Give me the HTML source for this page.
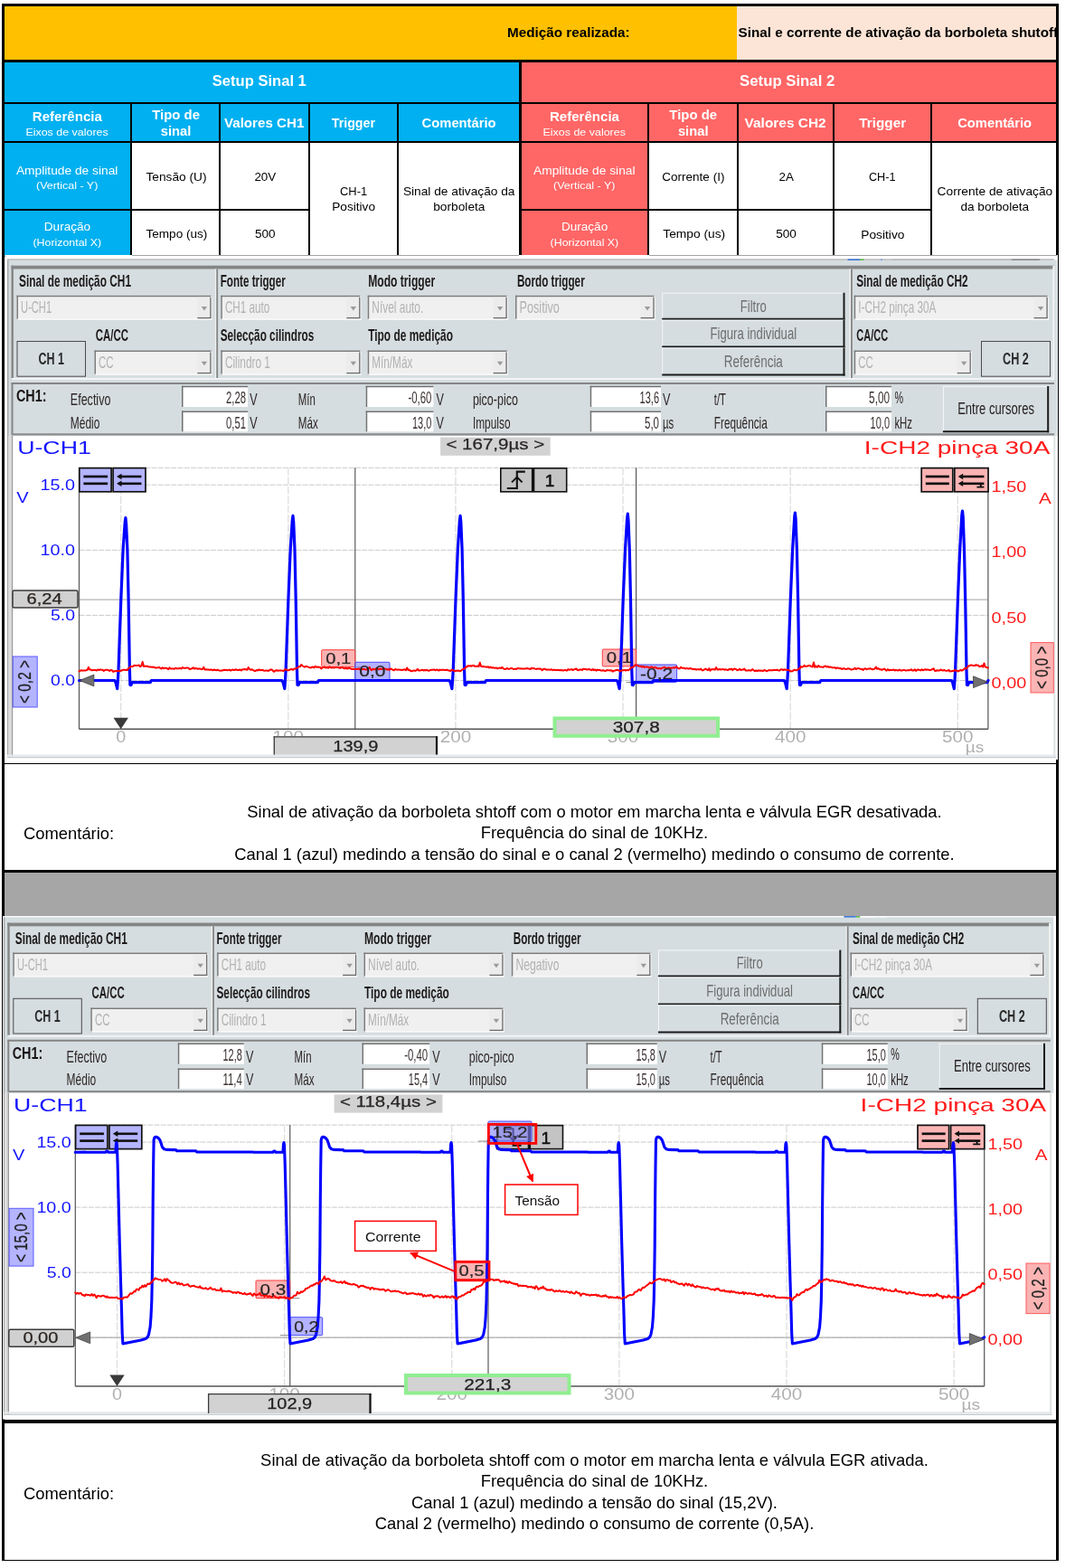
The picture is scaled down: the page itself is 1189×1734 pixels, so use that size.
<!DOCTYPE html>
<html lang="pt"><head><meta charset="utf-8"><title>Medição</title>
<style>
html,body{margin:0;padding:0;background:#fff;}
body{width:1189px;height:1734px;overflow:hidden;font-family:"Liberation Sans", sans-serif;}
#pg{position:relative;width:1189px;height:1734px;overflow:hidden;background:#fff;}
#pg div{box-sizing:border-box;}
svg text{font-family:"Liberation Sans", sans-serif;}
</style></head><body><div id="pg">
<div style="position:absolute;left:2px;top:4px;width:1169px;height:280px;background:#000;"></div>
<div style="position:absolute;left:5px;top:7px;width:810px;height:59px;background:#ffc000;"></div>
<div style="position:absolute;left:815px;top:7px;width:353px;height:59px;background:#fce4d6;"></div>
<div style="position:absolute;left:5px;top:69px;width:569px;height:44px;background:#00b0f0;"></div>
<div style="position:absolute;left:577px;top:69px;width:591px;height:44px;background:#ff6666;"></div>
<div style="position:absolute;left:5px;top:115px;width:139px;height:40.8px;background:#00b0f0;"></div>
<div style="position:absolute;left:146px;top:115px;width:96px;height:40.8px;background:#00b0f0;"></div>
<div style="position:absolute;left:244px;top:115px;width:97px;height:40.8px;background:#00b0f0;"></div>
<div style="position:absolute;left:343px;top:115px;width:96px;height:40.8px;background:#00b0f0;"></div>
<div style="position:absolute;left:441px;top:115px;width:133px;height:40.8px;background:#00b0f0;"></div>
<div style="position:absolute;left:577px;top:115px;width:139px;height:40.8px;background:#ff6666;"></div>
<div style="position:absolute;left:718px;top:115px;width:97px;height:40.8px;background:#ff6666;"></div>
<div style="position:absolute;left:817px;top:115px;width:104px;height:40.8px;background:#ff6666;"></div>
<div style="position:absolute;left:923px;top:115px;width:106px;height:40.8px;background:#ff6666;"></div>
<div style="position:absolute;left:1031px;top:115px;width:137px;height:40.8px;background:#ff6666;"></div>
<div style="position:absolute;left:5px;top:158px;width:139px;height:73px;background:#00b0f0;"></div>
<div style="position:absolute;left:5px;top:233px;width:139px;height:49.5px;background:#00b0f0;"></div>
<div style="position:absolute;left:146px;top:158px;width:96px;height:73px;background:#fff;"></div>
<div style="position:absolute;left:146px;top:233px;width:96px;height:49.5px;background:#fff;"></div>
<div style="position:absolute;left:244px;top:158px;width:97px;height:73px;background:#fff;"></div>
<div style="position:absolute;left:244px;top:233px;width:97px;height:49.5px;background:#fff;"></div>
<div style="position:absolute;left:577px;top:158px;width:139px;height:73px;background:#ff6666;"></div>
<div style="position:absolute;left:577px;top:233px;width:139px;height:49.5px;background:#ff6666;"></div>
<div style="position:absolute;left:718px;top:158px;width:97px;height:73px;background:#fff;"></div>
<div style="position:absolute;left:718px;top:233px;width:97px;height:49.5px;background:#fff;"></div>
<div style="position:absolute;left:817px;top:158px;width:104px;height:73px;background:#fff;"></div>
<div style="position:absolute;left:817px;top:233px;width:104px;height:49.5px;background:#fff;"></div>
<div style="position:absolute;left:343px;top:158px;width:96px;height:124.5px;background:#fff;"></div>
<div style="position:absolute;left:441px;top:158px;width:133px;height:124.5px;background:#fff;"></div>
<div style="position:absolute;left:923px;top:158px;width:106px;height:73px;background:#fff;"></div>
<div style="position:absolute;left:923px;top:233px;width:106px;height:49.5px;background:#fff;"></div>
<div style="position:absolute;left:1031px;top:158px;width:137px;height:124.5px;background:#fff;"></div>
<svg width="1189" height="290" viewBox="0 0 1189 290" style="position:absolute;left:0;top:0"><text x="561" y="40.8" font-size="14.7" fill="#000" textLength="135.6" lengthAdjust="spacingAndGlyphs" font-weight="bold">Medição realizada:</text><clipPath id="c0"><rect x="815" y="7" width="353" height="59"/></clipPath><g clip-path="url(#c0)"><text x="816.6" y="40.8" font-size="14.7" font-weight="bold" fill="#000" textLength="353.6" lengthAdjust="spacingAndGlyphs">Sinal e corrente de ativação da borboleta shutoff</text></g><text x="234.8" y="94.9" font-size="16" fill="#fff" textLength="104.0" lengthAdjust="spacingAndGlyphs" font-weight="bold">Setup Sinal 1</text><text x="818.1" y="94.7" font-size="16" fill="#fff" textLength="105.2" lengthAdjust="spacingAndGlyphs" font-weight="bold">Setup Sinal 2</text><text x="35.8" y="133.7" font-size="14.2" fill="#fff" textLength="77.1" lengthAdjust="spacingAndGlyphs" font-weight="bold">Referência</text><text x="28.4" y="149.6" font-size="11" fill="#fff" textLength="91.4" lengthAdjust="spacingAndGlyphs">Eixos de valores</text><text x="168.2" y="131.8" font-size="14.2" fill="#fff" textLength="52.8" lengthAdjust="spacingAndGlyphs" font-weight="bold">Tipo de</text><text x="177.8" y="150.4" font-size="14.2" fill="#fff" textLength="33.6" lengthAdjust="spacingAndGlyphs" font-weight="bold">sinal</text><text x="17.9" y="193" font-size="13.3" fill="#fff" textLength="112.5" lengthAdjust="spacingAndGlyphs">Amplitude de sinal</text><text x="40" y="208.9" font-size="11.6" fill="#fff" textLength="68.3" lengthAdjust="spacingAndGlyphs">(Vertical - Y)</text><text x="48.8" y="255.4" font-size="13.3" fill="#fff" textLength="51.3" lengthAdjust="spacingAndGlyphs">Duração</text><text x="36.5" y="272" font-size="11.6" fill="#fff" textLength="75.6" lengthAdjust="spacingAndGlyphs">(Horizontal X)</text><text x="607.9" y="133.7" font-size="14.2" fill="#fff" textLength="77.1" lengthAdjust="spacingAndGlyphs" font-weight="bold">Referência</text><text x="600.5" y="149.6" font-size="11" fill="#fff" textLength="91.4" lengthAdjust="spacingAndGlyphs">Eixos de valores</text><text x="740.3" y="131.8" font-size="14.2" fill="#fff" textLength="52.8" lengthAdjust="spacingAndGlyphs" font-weight="bold">Tipo de</text><text x="749.9000000000001" y="150.4" font-size="14.2" fill="#fff" textLength="33.6" lengthAdjust="spacingAndGlyphs" font-weight="bold">sinal</text><text x="590.0" y="193" font-size="13.3" fill="#fff" textLength="112.5" lengthAdjust="spacingAndGlyphs">Amplitude de sinal</text><text x="612.1" y="208.9" font-size="11.6" fill="#fff" textLength="68.3" lengthAdjust="spacingAndGlyphs">(Vertical - Y)</text><text x="620.9" y="255.4" font-size="13.3" fill="#fff" textLength="51.3" lengthAdjust="spacingAndGlyphs">Duração</text><text x="608.6" y="272" font-size="11.6" fill="#fff" textLength="75.6" lengthAdjust="spacingAndGlyphs">(Horizontal X)</text><text x="248" y="141.1" font-size="14.4" fill="#fff" textLength="88.3" lengthAdjust="spacingAndGlyphs" font-weight="bold">Valores CH1</text><text x="823.6" y="141.2" font-size="14.4" fill="#fff" textLength="90.1" lengthAdjust="spacingAndGlyphs" font-weight="bold">Valores CH2</text><text x="366.8" y="141.4" font-size="14.4" fill="#fff" textLength="48.2" lengthAdjust="spacingAndGlyphs" font-weight="bold">Trigger</text><text x="950.3" y="141.4" font-size="14.4" fill="#fff" textLength="51.8" lengthAdjust="spacingAndGlyphs" font-weight="bold">Trigger</text><text x="466.6" y="141.4" font-size="14.4" fill="#fff" textLength="82.0" lengthAdjust="spacingAndGlyphs" font-weight="bold">Comentário</text><text x="1059.2" y="141.4" font-size="14.4" fill="#fff" textLength="81.9" lengthAdjust="spacingAndGlyphs" font-weight="bold">Comentário</text><text x="161.5" y="200" font-size="13.3" fill="#000" textLength="67.1" lengthAdjust="spacingAndGlyphs">Tensão (U)</text><text x="161.5" y="263" font-size="13.3" fill="#000" textLength="67.8" lengthAdjust="spacingAndGlyphs">Tempo (us)</text><text x="281.4" y="200" font-size="13.3" fill="#000" textLength="23.8" lengthAdjust="spacingAndGlyphs">20V</text><text x="282" y="263" font-size="13.3" fill="#000" textLength="22.6" lengthAdjust="spacingAndGlyphs">500</text><text x="376" y="215.9" font-size="13.3" fill="#000" textLength="30.1" lengthAdjust="spacingAndGlyphs">CH-1</text><text x="367.2" y="232.7" font-size="13.3" fill="#000" textLength="47.8" lengthAdjust="spacingAndGlyphs">Positivo</text><text x="445.9" y="216" font-size="13.3" fill="#000" textLength="123.6" lengthAdjust="spacingAndGlyphs">Sinal de ativação da</text><text x="479.2" y="232.8" font-size="13.3" fill="#000" textLength="57.3" lengthAdjust="spacingAndGlyphs">borboleta</text><text x="732.3" y="200" font-size="13.3" fill="#000" textLength="69.1" lengthAdjust="spacingAndGlyphs">Corrente (I)</text><text x="733.3" y="263" font-size="13.3" fill="#000" textLength="68.9" lengthAdjust="spacingAndGlyphs">Tempo (us)</text><text x="861.5" y="200" font-size="13.3" fill="#000" textLength="16.4" lengthAdjust="spacingAndGlyphs">2A</text><text x="858.2" y="263" font-size="13.3" fill="#000" textLength="22.7" lengthAdjust="spacingAndGlyphs">500</text><text x="960.9" y="200.2" font-size="13.3" fill="#000" textLength="29.6" lengthAdjust="spacingAndGlyphs">CH-1</text><text x="952.3" y="263.7" font-size="13.3" fill="#000" textLength="48.1" lengthAdjust="spacingAndGlyphs">Positivo</text><text x="1036.6" y="216.3" font-size="13.3" fill="#000" textLength="127.6" lengthAdjust="spacingAndGlyphs">Corrente de ativação</text><text x="1062.4" y="232.7" font-size="13.3" fill="#000" textLength="75.8" lengthAdjust="spacingAndGlyphs">da borboleta</text></svg>
<div style="position:absolute;left:2px;top:282px;width:3px;height:1444px;background:#000;"></div>
<div style="position:absolute;left:1168px;top:282px;width:3px;height:1444px;background:#000;"></div>
<div style="position:absolute;left:5px;top:843.8px;width:1163px;height:1.3px;background:#000;"></div>
<div style="position:absolute;left:5px;top:961.5px;width:1163px;height:3.5px;background:#000;"></div>
<div style="position:absolute;left:5px;top:965px;width:1163px;height:48px;background:#a6a6a6;"></div>
<div style="position:absolute;left:5px;top:1570.4px;width:1163px;height:3.4px;background:#000;"></div>
<div style="position:absolute;left:2px;top:1725px;width:1169px;height:1.3px;background:#000;"></div>
<div style="position:absolute;left:26px;top:907px;width:200px;height:30px;display:flex;align-items:center;justify-content:flex-start;text-align:left;font-size:18.4px;line-height:21.159999999999997px;color:#000;font-weight:normal;"><span>Comentário:</span></div>
<div style="position:absolute;left:150px;top:880px;width:1015px;height:82px;display:flex;align-items:center;justify-content:center;text-align:center;font-size:18.4px;line-height:23.4px;color:#000;font-weight:normal;white-space:nowrap;"><span>Sinal de ativação da borboleta shtoff com o motor em marcha lenta e válvula EGR desativada.<br>Frequência do sinal de 10KHz.<br>Canal 1 (azul) medindo a tensão do sinal e o canal 2 (vermelho) medindo o consumo de corrente.</span></div>
<div style="position:absolute;left:26px;top:1636.2px;width:200px;height:30px;display:flex;align-items:center;justify-content:flex-start;text-align:left;font-size:18.4px;line-height:21.159999999999997px;color:#000;font-weight:normal;"><span>Comentário:</span></div>
<div style="position:absolute;left:150px;top:1597.4px;width:1015px;height:105.0px;display:flex;align-items:center;justify-content:center;text-align:center;font-size:18.4px;line-height:23.4px;color:#000;font-weight:normal;white-space:nowrap;"><span>Sinal de ativação da borboleta shtoff com o motor em marcha lenta e válvula EGR ativada.<br>Frequência do sinal de 10KHz.<br>Canal 1 (azul) medindo a tensão do sinal (15,2V).<br>Canal 2 (vermelho) medindo o consumo de corrente (0,5A).</span></div>
<svg width="1189" height="1734" viewBox="0 0 1189 1734" style="position:absolute;left:0;top:0"><g><rect x="5.5" y="282" width="1164.5" height="558" fill="#fff"/><line x1="146" y1="282.5" x2="574" y2="282.5" stroke="#9a9a9a" stroke-width="0.9"/><line x1="718" y1="282.5" x2="1169" y2="282.5" stroke="#9a9a9a" stroke-width="0.9"/><rect x="8" y="287.5" width="1161.5" height="194.5" fill="#d5dde0"/><line x1="8" y1="287" x2="1166" y2="287" stroke="#9a9a9a" stroke-width="1.2"/><line x1="8.7" y1="287.5" x2="8.7" y2="838" stroke="#a4a4a4" stroke-width="1.4"/><line x1="937.6" y1="287.2" x2="951" y2="287.2" stroke="#3b78d8" stroke-width="1.6"/><line x1="951" y1="287.2" x2="955.5" y2="287.2" stroke="#5fbf4a" stroke-width="1.6"/><line x1="974" y1="287.2" x2="976" y2="287.2" stroke="#7a9be0" stroke-width="1.4"/><line x1="986" y1="287.2" x2="1150" y2="287.2" stroke="#b4b8ba" stroke-width="1.2"/><line x1="1119" y1="287.2" x2="1150" y2="287.2" stroke="#8a8a8a" stroke-width="1.4"/><rect x="12.5" y="293.7" width="1153.5" height="3.8" fill="#858585"/><rect x="12.5" y="293.7" width="2.4" height="126" fill="#858585"/><line x1="1165.3" y1="294" x2="1165.3" y2="420" stroke="#f2f2f2" stroke-width="2"/><line x1="12.5" y1="419" x2="1166" y2="419" stroke="#f2f4f5" stroke-width="2"/><line x1="238.6" y1="297.5" x2="238.6" y2="418" stroke="#f0f0f0" stroke-width="1.4"/><line x1="240.2" y1="297.5" x2="240.2" y2="418" stroke="#858585" stroke-width="1.8"/><line x1="940.3" y1="297.5" x2="940.3" y2="418" stroke="#f0f0f0" stroke-width="1.4"/><line x1="941.9" y1="297.5" x2="941.9" y2="418" stroke="#858585" stroke-width="1.8"/><text x="21" y="317.1" font-size="17.8" fill="#1e1a1a" textLength="124" lengthAdjust="spacingAndGlyphs" font-weight="bold">Sinal de medição CH1</text><text x="243.7" y="317.1" font-size="17.8" fill="#1e1a1a" textLength="72" lengthAdjust="spacingAndGlyphs" font-weight="bold">Fonte trigger</text><text x="407.2" y="317.1" font-size="17.8" fill="#1e1a1a" textLength="74" lengthAdjust="spacingAndGlyphs" font-weight="bold">Modo trigger</text><text x="571.9" y="317.1" font-size="17.8" fill="#1e1a1a" textLength="74.8" lengthAdjust="spacingAndGlyphs" font-weight="bold">Bordo trigger</text><text x="947.2" y="317.1" font-size="17.8" fill="#1e1a1a" textLength="123.3" lengthAdjust="spacingAndGlyphs" font-weight="bold">Sinal de medição CH2</text><text x="105.8" y="377.3" font-size="17.8" fill="#1e1a1a" textLength="36.2" lengthAdjust="spacingAndGlyphs" font-weight="bold">CA/CC</text><text x="243.7" y="377.3" font-size="17.8" fill="#1e1a1a" textLength="103.6" lengthAdjust="spacingAndGlyphs" font-weight="bold">Selecção cilindros</text><text x="407.2" y="377.3" font-size="17.8" fill="#1e1a1a" textLength="93.8" lengthAdjust="spacingAndGlyphs" font-weight="bold">Tipo de medição</text><text x="947.2" y="377.3" font-size="17.8" fill="#1e1a1a" textLength="35" lengthAdjust="spacingAndGlyphs" font-weight="bold">CA/CC</text><rect x="18.5" y="326.7" width="215.9" height="26.900000000000034" fill="#f0f0f0"/><line x1="18.5" y1="327.45" x2="234.4" y2="327.45" stroke="#7c7c7c" stroke-width="1.5"/><line x1="19.25" y1="326.7" x2="19.25" y2="353.6" stroke="#7c7c7c" stroke-width="1.5"/><line x1="18.5" y1="353.1" x2="234.4" y2="353.1" stroke="#fff" stroke-width="1"/><line x1="233.9" y1="326.7" x2="233.9" y2="353.6" stroke="#fff" stroke-width="1"/><rect x="218.4" y="328.7" width="15.0" height="23.400000000000034" fill="#ececec"/><line x1="218.4" y1="351.6" x2="233.4" y2="351.6" stroke="#6a6a6a" stroke-width="1.3"/><line x1="232.9" y1="328.7" x2="232.9" y2="352.1" stroke="#6a6a6a" stroke-width="1.3"/><path d="M222.70000000000002,338.9 L229.1,338.9 L225.9,343.4 Z" fill="#9a9a9a"/><text x="23.1" y="345.9" font-size="17.8" fill="#b2b2b2" textLength="34" lengthAdjust="spacingAndGlyphs">U-CH1</text><rect x="104.5" y="387.6" width="129.9" height="27.0" fill="#f0f0f0"/><line x1="104.5" y1="388.35" x2="234.4" y2="388.35" stroke="#7c7c7c" stroke-width="1.5"/><line x1="105.25" y1="387.6" x2="105.25" y2="414.6" stroke="#7c7c7c" stroke-width="1.5"/><line x1="104.5" y1="414.1" x2="234.4" y2="414.1" stroke="#fff" stroke-width="1"/><line x1="233.9" y1="387.6" x2="233.9" y2="414.6" stroke="#fff" stroke-width="1"/><rect x="218.4" y="389.6" width="15.0" height="23.5" fill="#ececec"/><line x1="218.4" y1="412.6" x2="233.4" y2="412.6" stroke="#6a6a6a" stroke-width="1.3"/><line x1="232.9" y1="389.6" x2="232.9" y2="413.1" stroke="#6a6a6a" stroke-width="1.3"/><path d="M222.70000000000002,399.85 L229.1,399.85 L225.9,404.35 Z" fill="#9a9a9a"/><text x="109.1" y="406.8" font-size="17.8" fill="#b2b2b2" textLength="16.5" lengthAdjust="spacingAndGlyphs">CC</text><rect x="244.3" y="326.7" width="155.0" height="26.900000000000034" fill="#f0f0f0"/><line x1="244.3" y1="327.45" x2="399.3" y2="327.45" stroke="#7c7c7c" stroke-width="1.5"/><line x1="245.05" y1="326.7" x2="245.05" y2="353.6" stroke="#7c7c7c" stroke-width="1.5"/><line x1="244.3" y1="353.1" x2="399.3" y2="353.1" stroke="#fff" stroke-width="1"/><line x1="398.8" y1="326.7" x2="398.8" y2="353.6" stroke="#fff" stroke-width="1"/><rect x="383.3" y="328.7" width="15.0" height="23.400000000000034" fill="#ececec"/><line x1="383.3" y1="351.6" x2="398.3" y2="351.6" stroke="#6a6a6a" stroke-width="1.3"/><line x1="397.8" y1="328.7" x2="397.8" y2="352.1" stroke="#6a6a6a" stroke-width="1.3"/><path d="M387.6,338.9 L394.0,338.9 L390.8,343.4 Z" fill="#9a9a9a"/><text x="248.9" y="345.9" font-size="17.8" fill="#b2b2b2" textLength="49.4" lengthAdjust="spacingAndGlyphs">CH1 auto</text><rect x="244.3" y="387.6" width="155.0" height="27.0" fill="#f0f0f0"/><line x1="244.3" y1="388.35" x2="399.3" y2="388.35" stroke="#7c7c7c" stroke-width="1.5"/><line x1="245.05" y1="387.6" x2="245.05" y2="414.6" stroke="#7c7c7c" stroke-width="1.5"/><line x1="244.3" y1="414.1" x2="399.3" y2="414.1" stroke="#fff" stroke-width="1"/><line x1="398.8" y1="387.6" x2="398.8" y2="414.6" stroke="#fff" stroke-width="1"/><rect x="383.3" y="389.6" width="15.0" height="23.5" fill="#ececec"/><line x1="383.3" y1="412.6" x2="398.3" y2="412.6" stroke="#6a6a6a" stroke-width="1.3"/><line x1="397.8" y1="389.6" x2="397.8" y2="413.1" stroke="#6a6a6a" stroke-width="1.3"/><path d="M387.6,399.85 L394.0,399.85 L390.8,404.35 Z" fill="#9a9a9a"/><text x="248.9" y="406.8" font-size="17.8" fill="#b2b2b2" textLength="50" lengthAdjust="spacingAndGlyphs">Cilindro 1</text><rect x="406.7" y="326.7" width="154.90000000000003" height="26.900000000000034" fill="#f0f0f0"/><line x1="406.7" y1="327.45" x2="561.6" y2="327.45" stroke="#7c7c7c" stroke-width="1.5"/><line x1="407.45" y1="326.7" x2="407.45" y2="353.6" stroke="#7c7c7c" stroke-width="1.5"/><line x1="406.7" y1="353.1" x2="561.6" y2="353.1" stroke="#fff" stroke-width="1"/><line x1="561.1" y1="326.7" x2="561.1" y2="353.6" stroke="#fff" stroke-width="1"/><rect x="545.6" y="328.7" width="15.0" height="23.400000000000034" fill="#ececec"/><line x1="545.6" y1="351.6" x2="560.6" y2="351.6" stroke="#6a6a6a" stroke-width="1.3"/><line x1="560.1" y1="328.7" x2="560.1" y2="352.1" stroke="#6a6a6a" stroke-width="1.3"/><path d="M549.9,338.9 L556.3000000000001,338.9 L553.1,343.4 Z" fill="#9a9a9a"/><text x="411.3" y="345.9" font-size="17.8" fill="#b2b2b2" textLength="57" lengthAdjust="spacingAndGlyphs">Nível auto.</text><rect x="406.7" y="387.6" width="154.90000000000003" height="27.0" fill="#f0f0f0"/><line x1="406.7" y1="388.35" x2="561.6" y2="388.35" stroke="#7c7c7c" stroke-width="1.5"/><line x1="407.45" y1="387.6" x2="407.45" y2="414.6" stroke="#7c7c7c" stroke-width="1.5"/><line x1="406.7" y1="414.1" x2="561.6" y2="414.1" stroke="#fff" stroke-width="1"/><line x1="561.1" y1="387.6" x2="561.1" y2="414.6" stroke="#fff" stroke-width="1"/><rect x="545.6" y="389.6" width="15.0" height="23.5" fill="#ececec"/><line x1="545.6" y1="412.6" x2="560.6" y2="412.6" stroke="#6a6a6a" stroke-width="1.3"/><line x1="560.1" y1="389.6" x2="560.1" y2="413.1" stroke="#6a6a6a" stroke-width="1.3"/><path d="M549.9,399.85 L556.3000000000001,399.85 L553.1,404.35 Z" fill="#9a9a9a"/><text x="411.3" y="406.8" font-size="17.8" fill="#b2b2b2" textLength="45" lengthAdjust="spacingAndGlyphs">Mín/Máx</text><rect x="570" y="326.7" width="154.5" height="26.900000000000034" fill="#f0f0f0"/><line x1="570" y1="327.45" x2="724.5" y2="327.45" stroke="#7c7c7c" stroke-width="1.5"/><line x1="570.75" y1="326.7" x2="570.75" y2="353.6" stroke="#7c7c7c" stroke-width="1.5"/><line x1="570" y1="353.1" x2="724.5" y2="353.1" stroke="#fff" stroke-width="1"/><line x1="724.0" y1="326.7" x2="724.0" y2="353.6" stroke="#fff" stroke-width="1"/><rect x="708.5" y="328.7" width="15.0" height="23.400000000000034" fill="#ececec"/><line x1="708.5" y1="351.6" x2="723.5" y2="351.6" stroke="#6a6a6a" stroke-width="1.3"/><line x1="723.0" y1="328.7" x2="723.0" y2="352.1" stroke="#6a6a6a" stroke-width="1.3"/><path d="M712.8,338.9 L719.2,338.9 L716.0,343.4 Z" fill="#9a9a9a"/><text x="574.6" y="345.9" font-size="17.8" fill="#b2b2b2" textLength="44.2" lengthAdjust="spacingAndGlyphs">Positivo</text><rect x="944.7" y="326.7" width="214.89999999999986" height="26.900000000000034" fill="#f0f0f0"/><line x1="944.7" y1="327.45" x2="1159.6" y2="327.45" stroke="#7c7c7c" stroke-width="1.5"/><line x1="945.45" y1="326.7" x2="945.45" y2="353.6" stroke="#7c7c7c" stroke-width="1.5"/><line x1="944.7" y1="353.1" x2="1159.6" y2="353.1" stroke="#fff" stroke-width="1"/><line x1="1159.1" y1="326.7" x2="1159.1" y2="353.6" stroke="#fff" stroke-width="1"/><rect x="1143.6" y="328.7" width="15.0" height="23.400000000000034" fill="#ececec"/><line x1="1143.6" y1="351.6" x2="1158.6" y2="351.6" stroke="#6a6a6a" stroke-width="1.3"/><line x1="1158.1" y1="328.7" x2="1158.1" y2="352.1" stroke="#6a6a6a" stroke-width="1.3"/><path d="M1147.8999999999999,338.9 L1154.3,338.9 L1151.1,343.4 Z" fill="#9a9a9a"/><text x="949.3000000000001" y="345.9" font-size="17.8" fill="#b2b2b2" textLength="86" lengthAdjust="spacingAndGlyphs">I-CH2 pinça 30A</text><rect x="944.7" y="387.6" width="130.0" height="27.0" fill="#f0f0f0"/><line x1="944.7" y1="388.35" x2="1074.7" y2="388.35" stroke="#7c7c7c" stroke-width="1.5"/><line x1="945.45" y1="387.6" x2="945.45" y2="414.6" stroke="#7c7c7c" stroke-width="1.5"/><line x1="944.7" y1="414.1" x2="1074.7" y2="414.1" stroke="#fff" stroke-width="1"/><line x1="1074.2" y1="387.6" x2="1074.2" y2="414.6" stroke="#fff" stroke-width="1"/><rect x="1058.7" y="389.6" width="15.0" height="23.5" fill="#ececec"/><line x1="1058.7" y1="412.6" x2="1073.7" y2="412.6" stroke="#6a6a6a" stroke-width="1.3"/><line x1="1073.2" y1="389.6" x2="1073.2" y2="413.1" stroke="#6a6a6a" stroke-width="1.3"/><path d="M1063.0,399.85 L1069.4,399.85 L1066.2,404.35 Z" fill="#9a9a9a"/><text x="949.3000000000001" y="406.8" font-size="17.8" fill="#b2b2b2" textLength="16.5" lengthAdjust="spacingAndGlyphs">CC</text><rect x="732.2" y="323.7" width="202.29999999999995" height="30.100000000000023" fill="#d5dde0"/><line x1="732.2" y1="324.2" x2="934.5" y2="324.2" stroke="#f4f6f7" stroke-width="1"/><line x1="732.7" y1="323.7" x2="732.7" y2="353.8" stroke="#f4f6f7" stroke-width="1"/><line x1="732.2" y1="352.8" x2="934.5" y2="352.8" stroke="#1a1a1a" stroke-width="2"/><line x1="933.5" y1="323.7" x2="933.5" y2="353.8" stroke="#1a1a1a" stroke-width="2"/><text x="818.85" y="344.55" font-size="18" fill="#6e6e6e" textLength="29" lengthAdjust="spacingAndGlyphs">Filtro</text><rect x="732.2" y="353.8" width="202.29999999999995" height="30.80000000000001" fill="#d5dde0"/><line x1="732.2" y1="354.3" x2="934.5" y2="354.3" stroke="#f4f6f7" stroke-width="1"/><line x1="732.7" y1="353.8" x2="732.7" y2="384.6" stroke="#f4f6f7" stroke-width="1"/><line x1="732.2" y1="383.6" x2="934.5" y2="383.6" stroke="#1a1a1a" stroke-width="2"/><line x1="933.5" y1="353.8" x2="933.5" y2="384.6" stroke="#1a1a1a" stroke-width="2"/><text x="785.5500000000001" y="375.00000000000006" font-size="18" fill="#6e6e6e" textLength="95.6" lengthAdjust="spacingAndGlyphs">Figura individual</text><rect x="732.2" y="384.6" width="202.29999999999995" height="31.0" fill="#d5dde0"/><line x1="732.2" y1="385.1" x2="934.5" y2="385.1" stroke="#f4f6f7" stroke-width="1"/><line x1="732.7" y1="384.6" x2="732.7" y2="415.6" stroke="#f4f6f7" stroke-width="1"/><line x1="732.2" y1="414.6" x2="934.5" y2="414.6" stroke="#1a1a1a" stroke-width="2"/><line x1="933.5" y1="384.6" x2="933.5" y2="415.6" stroke="#1a1a1a" stroke-width="2"/><text x="800.85" y="405.90000000000003" font-size="18" fill="#6e6e6e" textLength="65" lengthAdjust="spacingAndGlyphs">Referência</text><rect x="19.0" y="377.5" width="75.5" height="38.69999999999999" fill="#d5dde0" stroke="#4a4a4a" stroke-width="1"/><text x="42.5" y="403.4" font-size="17.8" fill="#2a2a2a" textLength="28.5" lengthAdjust="spacingAndGlyphs" font-weight="bold">CH 1</text><rect x="1085.5" y="377.5" width="76" height="38.69999999999999" fill="#d5dde0" stroke="#4a4a4a" stroke-width="1"/><text x="1109.1" y="403.4" font-size="17.8" fill="#2a2a2a" textLength="28.8" lengthAdjust="spacingAndGlyphs" font-weight="bold">CH 2</text><line x1="12.5" y1="424" x2="1166" y2="424" stroke="#858585" stroke-width="2"/><line x1="13.5" y1="423" x2="13.5" y2="480" stroke="#858585" stroke-width="2"/><line x1="12.5" y1="480.4" x2="1166" y2="480.4" stroke="#8c8c8c" stroke-width="2.2"/><text x="17.9" y="444.2" font-size="19.2" fill="#1a1414" textLength="33.6" lengthAdjust="spacingAndGlyphs" font-weight="bold">CH1:</text><text x="77.8" y="448.0" font-size="17.8" fill="#2e2626" textLength="44.6" lengthAdjust="spacingAndGlyphs">Efectivo</text><text x="77.8" y="473.7" font-size="17.8" fill="#2e2626" textLength="32.6" lengthAdjust="spacingAndGlyphs">Médio</text><text x="329.8" y="448.0" font-size="17.8" fill="#2e2626" textLength="19" lengthAdjust="spacingAndGlyphs">Mín</text><text x="329.8" y="473.7" font-size="17.8" fill="#2e2626" textLength="22" lengthAdjust="spacingAndGlyphs">Máx</text><text x="522.9" y="448.0" font-size="17.8" fill="#2e2626" textLength="50" lengthAdjust="spacingAndGlyphs">pico-pico</text><text x="522.9" y="473.7" font-size="17.8" fill="#2e2626" textLength="41.6" lengthAdjust="spacingAndGlyphs">Impulso</text><text x="789.8" y="448.0" font-size="17.8" fill="#2e2626" textLength="13" lengthAdjust="spacingAndGlyphs">t/T</text><text x="789.8" y="473.7" font-size="17.8" fill="#2e2626" textLength="59" lengthAdjust="spacingAndGlyphs">Frequência</text><text x="276.2" y="448.0" font-size="17.8" fill="#2e2626" textLength="8.4" lengthAdjust="spacingAndGlyphs">V</text><text x="276.2" y="473.7" font-size="17.8" fill="#2e2626" textLength="8.4" lengthAdjust="spacingAndGlyphs">V</text><text x="482.5" y="448.0" font-size="17.8" fill="#2e2626" textLength="8.4" lengthAdjust="spacingAndGlyphs">V</text><text x="482.5" y="473.7" font-size="17.8" fill="#2e2626" textLength="8.4" lengthAdjust="spacingAndGlyphs">V</text><text x="733" y="448.0" font-size="17.8" fill="#2e2626" textLength="8.4" lengthAdjust="spacingAndGlyphs">V</text><text x="733" y="473.7" font-size="17.8" fill="#2e2626" textLength="12.2" lengthAdjust="spacingAndGlyphs">µs</text><text x="989.4" y="445.7" font-size="17.8" fill="#2e2626" textLength="9.6" lengthAdjust="spacingAndGlyphs">%</text><text x="989.4" y="473.7" font-size="17.8" fill="#2e2626" textLength="19.6" lengthAdjust="spacingAndGlyphs">kHz</text><rect x="201" y="426.8" width="73" height="23.19999999999999" fill="#fff"/><line x1="201" y1="427.55" x2="274" y2="427.55" stroke="#707070" stroke-width="1.5"/><line x1="201.75" y1="426.8" x2="201.75" y2="450" stroke="#707070" stroke-width="1.5"/><text x="250" y="445.8" font-size="17.8" fill="#3a3030" textLength="22" lengthAdjust="spacingAndGlyphs">2,28</text><rect x="201" y="454.6" width="73" height="22.69999999999999" fill="#fff"/><line x1="201" y1="455.35" x2="274" y2="455.35" stroke="#707070" stroke-width="1.5"/><line x1="201.75" y1="454.6" x2="201.75" y2="477.3" stroke="#707070" stroke-width="1.5"/><text x="250" y="473.6" font-size="17.8" fill="#3a3030" textLength="22" lengthAdjust="spacingAndGlyphs">0,51</text><rect x="404.7" y="426.8" width="74.69999999999999" height="23.19999999999999" fill="#fff"/><line x1="404.7" y1="427.55" x2="479.4" y2="427.55" stroke="#707070" stroke-width="1.5"/><line x1="405.45" y1="426.8" x2="405.45" y2="450" stroke="#707070" stroke-width="1.5"/><text x="451.4" y="445.8" font-size="17.8" fill="#3a3030" textLength="26" lengthAdjust="spacingAndGlyphs">-0,60</text><rect x="404.7" y="454.6" width="74.69999999999999" height="22.69999999999999" fill="#fff"/><line x1="404.7" y1="455.35" x2="479.4" y2="455.35" stroke="#707070" stroke-width="1.5"/><line x1="405.45" y1="454.6" x2="405.45" y2="477.3" stroke="#707070" stroke-width="1.5"/><text x="456.0" y="473.6" font-size="17.8" fill="#3a3030" textLength="21.4" lengthAdjust="spacingAndGlyphs">13,0</text><rect x="652.7" y="426.8" width="78.29999999999995" height="23.19999999999999" fill="#fff"/><line x1="652.7" y1="427.55" x2="731" y2="427.55" stroke="#707070" stroke-width="1.5"/><line x1="653.45" y1="426.8" x2="653.45" y2="450" stroke="#707070" stroke-width="1.5"/><text x="707.6" y="445.8" font-size="17.8" fill="#3a3030" textLength="21.4" lengthAdjust="spacingAndGlyphs">13,6</text><rect x="652.7" y="454.6" width="78.29999999999995" height="22.69999999999999" fill="#fff"/><line x1="652.7" y1="455.35" x2="731" y2="455.35" stroke="#707070" stroke-width="1.5"/><line x1="653.45" y1="454.6" x2="653.45" y2="477.3" stroke="#707070" stroke-width="1.5"/><text x="713" y="473.6" font-size="17.8" fill="#3a3030" textLength="16" lengthAdjust="spacingAndGlyphs">5,0</text><rect x="913" y="426.8" width="73" height="23.19999999999999" fill="#fff"/><line x1="913" y1="427.55" x2="986" y2="427.55" stroke="#707070" stroke-width="1.5"/><line x1="913.75" y1="426.8" x2="913.75" y2="450" stroke="#707070" stroke-width="1.5"/><text x="961.1" y="445.8" font-size="17.8" fill="#3a3030" textLength="22.9" lengthAdjust="spacingAndGlyphs">5,00</text><rect x="913" y="454.6" width="73" height="22.69999999999999" fill="#fff"/><line x1="913" y1="455.35" x2="986" y2="455.35" stroke="#707070" stroke-width="1.5"/><line x1="913.75" y1="454.6" x2="913.75" y2="477.3" stroke="#707070" stroke-width="1.5"/><text x="962.6" y="473.6" font-size="17.8" fill="#3a3030" textLength="21.4" lengthAdjust="spacingAndGlyphs">10,0</text><rect x="1042.9" y="427" width="117.29999999999995" height="51.30000000000001" fill="#d5dde0"/><line x1="1042.9" y1="427.5" x2="1160.2" y2="427.5" stroke="#f4f6f7" stroke-width="1"/><line x1="1043.4" y1="427" x2="1043.4" y2="478.3" stroke="#f4f6f7" stroke-width="1"/><line x1="1042.9" y1="477.3" x2="1160.2" y2="477.3" stroke="#1a1a1a" stroke-width="2"/><line x1="1159.2" y1="427" x2="1159.2" y2="478.3" stroke="#1a1a1a" stroke-width="2"/><text x="1059.15" y="458.1" font-size="18" fill="#262020" textLength="84.8" lengthAdjust="spacingAndGlyphs">Entre cursores</text><rect x="14.5" y="482" width="1151" height="353" fill="#fff"/><line x1="13.4" y1="482" x2="13.4" y2="838" stroke="#9a9a9a" stroke-width="1.6"/><line x1="11" y1="482" x2="11" y2="838" stroke="#dcdcdc" stroke-width="2.6"/><line x1="1166.3" y1="482" x2="1166.3" y2="838" stroke="#dfe3e5" stroke-width="2"/><line x1="8" y1="835.6" x2="1168" y2="835.6" stroke="#e4e8ea" stroke-width="2.4"/><line x1="8" y1="837.6" x2="1168" y2="837.6" stroke="#c8cccf" stroke-width="1.2"/><line x1="87.5" y1="517.3" x2="1092.9" y2="517.3" stroke="#cacaca" stroke-width="1.0" stroke-dasharray="6 1.27"/><line x1="87.5" y1="536.2" x2="1092.9" y2="536.2" stroke="#cacaca" stroke-width="1.0" stroke-dasharray="6 1.27"/><line x1="87.5" y1="608.3" x2="1092.9" y2="608.3" stroke="#cacaca" stroke-width="1.0" stroke-dasharray="6 1.27"/><line x1="87.5" y1="680.4" x2="1092.9" y2="680.4" stroke="#cacaca" stroke-width="1.0" stroke-dasharray="6 1.27"/><line x1="87.5" y1="752.5" x2="1092.9" y2="752.5" stroke="#cacaca" stroke-width="1.0" stroke-dasharray="6 1.27"/><line x1="133.7" y1="517.3" x2="133.7" y2="806.2" stroke="#dedede" stroke-width="1.3" stroke-dasharray="8.4 2"/><line x1="318.82" y1="517.3" x2="318.82" y2="806.2" stroke="#dedede" stroke-width="1.3" stroke-dasharray="8.4 2"/><line x1="503.94" y1="517.3" x2="503.94" y2="806.2" stroke="#dedede" stroke-width="1.3" stroke-dasharray="8.4 2"/><line x1="689.06" y1="517.3" x2="689.06" y2="806.2" stroke="#dedede" stroke-width="1.3" stroke-dasharray="8.4 2"/><line x1="874.1800000000001" y1="517.3" x2="874.1800000000001" y2="806.2" stroke="#dedede" stroke-width="1.3" stroke-dasharray="8.4 2"/><line x1="1059.3" y1="517.3" x2="1059.3" y2="806.2" stroke="#dedede" stroke-width="1.3" stroke-dasharray="8.4 2"/><line x1="87.5" y1="663.2" x2="1092.9" y2="663.2" stroke="#b4b4b4" stroke-width="1.2"/><line x1="87.5" y1="517.3" x2="87.5" y2="806.2" stroke="#555" stroke-width="1.2"/><line x1="1092.9" y1="517.3" x2="1092.9" y2="806.2" stroke="#555" stroke-width="1.2"/><line x1="87.5" y1="806.2" x2="1092.9" y2="806.2" stroke="#555" stroke-width="1.4"/><text x="19.2" y="501.9" font-size="20.2" fill="#1414ff" textLength="81.6" lengthAdjust="spacingAndGlyphs">U-CH1</text><text x="955.8" y="501.9" font-size="20.2" fill="#ff1a1a" textLength="205.6" lengthAdjust="spacingAndGlyphs">I-CH2 pinça 30A</text><text x="44.6" y="541.8000000000001" font-size="16" fill="#1414ff" textLength="38.4" lengthAdjust="spacingAndGlyphs">15.0</text><text x="44.6" y="613.9" font-size="16" fill="#1414ff" textLength="38.4" lengthAdjust="spacingAndGlyphs">10.0</text><text x="56" y="686.0" font-size="16" fill="#1414ff" textLength="27" lengthAdjust="spacingAndGlyphs">5.0</text><text x="56" y="758.1" font-size="16" fill="#1414ff" textLength="27" lengthAdjust="spacingAndGlyphs">0.0</text><text x="1096.6" y="544.3000000000001" font-size="16.4" fill="#ff1a1a" textLength="38.6" lengthAdjust="spacingAndGlyphs">1,50</text><text x="1096.6" y="616.4" font-size="16.4" fill="#ff1a1a" textLength="38.6" lengthAdjust="spacingAndGlyphs">1,00</text><text x="1096.6" y="688.5" font-size="16.4" fill="#ff1a1a" textLength="38.6" lengthAdjust="spacingAndGlyphs">0,50</text><text x="1096.6" y="760.6" font-size="16.4" fill="#ff1a1a" textLength="38.6" lengthAdjust="spacingAndGlyphs">0,00</text><text x="18.2" y="556.4" font-size="16.5" fill="#1414ff" textLength="13.4" lengthAdjust="spacingAndGlyphs">V</text><text x="1149" y="556.5" font-size="16.5" fill="#ff1a1a" textLength="13.8" lengthAdjust="spacingAndGlyphs">A</text><text x="128.2" y="821.4" font-size="17.6" fill="#b0b0b0" textLength="11" lengthAdjust="spacingAndGlyphs">0</text><text x="301.62" y="821.4" font-size="17.6" fill="#b0b0b0" textLength="34.4" lengthAdjust="spacingAndGlyphs">100</text><text x="486.74" y="821.4" font-size="17.6" fill="#b0b0b0" textLength="34.4" lengthAdjust="spacingAndGlyphs">200</text><text x="671.8599999999999" y="821.4" font-size="17.6" fill="#b0b0b0" textLength="34.4" lengthAdjust="spacingAndGlyphs">300</text><text x="856.98" y="821.4" font-size="17.6" fill="#b0b0b0" textLength="34.4" lengthAdjust="spacingAndGlyphs">400</text><text x="1042.1" y="821.4" font-size="17.6" fill="#b0b0b0" textLength="34.4" lengthAdjust="spacingAndGlyphs">500</text><text x="1067.7" y="832.4" font-size="17" fill="#b0b0b0" textLength="20.6" lengthAdjust="spacingAndGlyphs">µs</text><line x1="392.8" y1="517.3" x2="392.8" y2="806.2" stroke="#4a4a4a" stroke-width="1.1"/><line x1="703.6" y1="517.3" x2="703.6" y2="806.2" stroke="#4a4a4a" stroke-width="1.1"/><rect x="87.8" y="517.6" width="35.3" height="26.199999999999932" fill="#b4b4ff" stroke="#111" stroke-width="1.7"/><rect x="125.1" y="517.6" width="35.900000000000006" height="26.199999999999932" fill="#b4b4ff" stroke="#111" stroke-width="1.7"/><line x1="92.39999999999999" y1="527.0" x2="119.1" y2="527.0" stroke="#111" stroke-width="2.7"/><line x1="92.39999999999999" y1="534.8" x2="119.1" y2="534.8" stroke="#111" stroke-width="2.7"/><line x1="131.5" y1="527.0" x2="156.4" y2="527.0" stroke="#111" stroke-width="2.6"/><path d="M129.0,527.0 L134.5,523.8 L134.5,530.2 Z" fill="#111"/><line x1="131.5" y1="534.8" x2="156.4" y2="534.8" stroke="#111" stroke-width="2.6"/><path d="M129.0,534.8 L134.5,531.5999999999999 L134.5,538.0 Z" fill="#111"/><rect x="1019.2" y="517.6" width="34.59999999999991" height="26.199999999999932" fill="#fbb4b4" stroke="#111" stroke-width="1.7"/><rect x="1055.8" y="517.6" width="37.200000000000045" height="26.199999999999932" fill="#fbb4b4" stroke="#111" stroke-width="1.7"/><line x1="1023.8000000000001" y1="527.0" x2="1049.8" y2="527.0" stroke="#111" stroke-width="2.7"/><line x1="1023.8000000000001" y1="534.8" x2="1049.8" y2="534.8" stroke="#111" stroke-width="2.7"/><line x1="1062.2" y1="527.0" x2="1088.4" y2="527.0" stroke="#111" stroke-width="2.6"/><path d="M1059.7,527.0 L1065.2,523.8 L1065.2,530.2 Z" fill="#111"/><line x1="1062.2" y1="534.8" x2="1088.4" y2="534.8" stroke="#111" stroke-width="2.6"/><path d="M1059.7,534.8 L1065.2,531.5999999999999 L1065.2,538.0 Z" fill="#111"/><path d="M1080.4,538.5999999999999 L1088.4,538.5999999999999 M1084.8000000000002,538.5999999999999 L1084.8000000000002,534.8" stroke="#111" stroke-width="1.9" fill="none"/><rect x="553.8" y="517.8" width="72.90000000000009" height="26" fill="#c4c4c4" stroke="#111" stroke-width="1.6"/><line x1="589.6" y1="517.8" x2="589.6" y2="543.8" stroke="#111" stroke-width="3.4"/><path d="M560.8,540 L571.8,540 L571.8,521.6 L580.8,521.6" stroke="#111" stroke-width="2.1" fill="none"/><path d="M566.0,533.4 L571.8,527.6 L577.5999999999999,533.4" stroke="#111" stroke-width="2" fill="none"/><text x="602.75" y="538.4" font-size="18" fill="#111" textLength="10.6" lengthAdjust="spacingAndGlyphs" stroke="#111" stroke-width="0.5">1</text><rect x="487.1" y="483.6" width="121.60000000000002" height="20.2" fill="#d2d2d2"/><text x="493.40000000000003" y="497.4" font-size="16.2" fill="#2a2626" textLength="108.80000000000003" lengthAdjust="spacingAndGlyphs" stroke="#2a2626" stroke-width="0.25">&lt; 167,9µs &gt;</text><rect x="14" y="653.0" width="72" height="19" rx="1.5" fill="#d0d0d0" stroke="#3a3a3a" stroke-width="1.5"/><text x="29.6" y="668.1" font-size="16.3" fill="#2a2420" textLength="39" lengthAdjust="spacingAndGlyphs" stroke="#2a2420" stroke-width="0.25">6,24</text><rect x="14.3" y="726" width="26.900000000000002" height="56" fill="#b4b4ff" stroke="#5a5aff" stroke-width="1"/><text transform="translate(27.75,754.0) rotate(-90)" x="-24.0" y="6.6" font-size="20" fill="#222" stroke="#222" stroke-width=".3" textLength="48" lengthAdjust="spacingAndGlyphs">&lt; 0,2 &gt;</text><rect x="1140" y="710.6" width="25.299999999999955" height="55.39999999999998" fill="#fbb4b4" stroke="#ff5a5a" stroke-width="1"/><text transform="translate(1152.65,738.3) rotate(-90)" x="-23.69999999999999" y="6.6" font-size="20" fill="#222" stroke="#222" stroke-width=".3" textLength="47.39999999999998" lengthAdjust="spacingAndGlyphs">&lt; 0,0 &gt;</text><rect x="355.7" y="718.7" width="37.10000000000002" height="18.899999999999977" rx="1" fill="#f88080" fill-opacity=".6" stroke="#ff3c3c" stroke-width="1"/><line x1="392.8" y1="737.6" x2="403.3" y2="737.6" stroke="#8a8a8a" stroke-width="1"/><rect x="392.8" y="732.3" width="38.19999999999999" height="19.700000000000045" rx="1" fill="#8080ff" fill-opacity=".6" stroke="#4a4aff" stroke-width="1"/><line x1="381.8" y1="752" x2="392.8" y2="752" stroke="#8a8a8a" stroke-width="1"/><rect x="666.3" y="718" width="37.30000000000007" height="18.899999999999977" rx="1" fill="#f88080" fill-opacity=".6" stroke="#ff3c3c" stroke-width="1"/><line x1="703.6" y1="736.9" x2="714.1" y2="736.9" stroke="#8a8a8a" stroke-width="1"/><rect x="703.6" y="735" width="45.0" height="19.5" rx="1" fill="#8080ff" fill-opacity=".6" stroke="#4a4aff" stroke-width="1"/><line x1="692.6" y1="754.5" x2="703.6" y2="754.5" stroke="#8a8a8a" stroke-width="1"/><path d="M87.5,752.5 L126.8,752.5 L128.1,755.0 L129.7,761.6 L130.4,752.0 L131.0,741.6 L133.8,663.0 L136.1,608.0 L138.2,577.6 L138.9,572.6 L139.6,579.6 L140.9,608.0 L142.1,663.0 L143.4,741.6 L143.9,757.5 L144.9,757.6 L146.3,754.6 L166.2,754.6 L167.4,752.5 L311.9,752.5 L313.2,755.0 L314.8,761.6 L315.5,752.0 L316.1,741.6 L318.9,663.0 L321.2,608.0 L323.3,575.4 L324.0,570.4 L324.7,577.4 L326.0,608.0 L327.2,663.0 L328.5,741.6 L329.0,757.5 L330.0,757.6 L331.4,754.6 L351.3,754.6 L352.5,752.5 L497.0,752.5 L498.3,755.0 L499.9,761.6 L500.6,752.0 L501.2,741.6 L504.0,663.0 L506.3,608.0 L508.4,575.4 L509.1,570.4 L509.8,577.4 L511.1,608.0 L512.3,663.0 L513.6,741.6 L514.1,757.5 L515.1,757.6 L516.5,754.6 L536.4,754.6 L537.6,752.5 L682.2,752.5 L683.5,755.0 L685.1,761.6 L685.8,752.0 L686.4,741.6 L689.2,663.0 L691.5,608.0 L693.6,573.2 L694.3,568.2 L695.0,575.2 L696.3,608.0 L697.5,663.0 L698.8,741.6 L699.3,757.5 L700.3,757.6 L701.7,754.6 L721.6,754.6 L722.8,752.5 L867.3,752.5 L868.6,755.0 L870.2,761.6 L870.9,752.0 L871.5,741.6 L874.3,663.0 L876.6,608.0 L878.7,572.0 L879.4,567.0 L880.1,574.0 L881.4,608.0 L882.6,663.0 L883.9,741.6 L884.4,757.5 L885.4,757.6 L886.8,754.6 L906.7,754.6 L907.9,752.5 L1052.4,752.5 L1053.7,755.0 L1055.3,761.6 L1056.0,752.0 L1056.6,741.6 L1059.4,663.0 L1061.7,608.0 L1063.8,570.0 L1064.5,565.0 L1065.2,572.0 L1066.5,608.0 L1067.7,663.0 L1069.0,741.6 L1069.5,757.5 L1070.5,757.6 L1071.9,754.6 L1091.8,754.6 L1093.0,752.5 L1092.9,752.5" fill="none" stroke="#0000ff" stroke-width="3.2" stroke-linejoin="round" stroke-linecap="round"/><path d="M87.5,742.4 L88.8,741.7 L90.1,741.3 L91.4,741.6 L92.7,741.6 L94.0,741.5 L95.3,741.3 L96.6,740.8 L97.9,737.9 L99.2,740.6 L100.5,740.5 L101.8,741.3 L103.1,741.0 L104.4,740.9 L105.7,741.0 L107.0,741.6 L108.3,740.5 L109.6,741.1 L110.9,740.4 L112.2,740.7 L113.5,740.7 L114.8,741.9 L116.1,741.0 L117.4,740.8 L118.7,740.7 L120.0,741.1 L121.3,742.0 L122.6,740.9 L123.9,741.3 L125.2,743.0 L126.5,742.1 L127.8,742.2 L129.1,741.9 L130.4,741.7 L131.7,741.9 L133.0,742.1 L134.3,741.5 L135.6,741.0 L136.9,740.6 L138.2,740.9 L139.5,740.8 L140.8,741.1 L142.1,739.0 L143.4,738.3 L144.7,736.9 L146.0,737.2 L147.3,736.7 L148.6,735.7 L149.9,735.9 L151.2,735.9 L152.5,735.9 L153.8,735.5 L155.1,737.3 L156.4,736.4 L157.7,731.9 L159.0,737.1 L160.3,736.7 L161.6,736.8 L162.9,736.8 L164.2,737.3 L165.5,737.5 L166.8,737.6 L168.1,737.7 L169.4,737.6 L170.7,738.0 L172.0,738.6 L173.3,738.4 L174.6,738.3 L175.9,737.9 L177.2,738.9 L178.5,739.5 L179.8,738.3 L181.1,739.2 L182.4,738.8 L183.7,738.7 L185.0,739.4 L186.3,740.2 L187.6,738.4 L188.9,739.5 L190.2,739.6 L191.5,739.4 L192.8,739.7 L194.1,738.7 L195.4,739.4 L196.7,739.3 L198.0,739.3 L199.3,738.8 L200.6,739.5 L201.9,738.1 L203.2,738.7 L204.5,739.0 L205.8,738.6 L207.1,738.6 L208.4,738.7 L209.7,740.2 L211.0,739.6 L212.3,739.5 L213.6,738.3 L214.9,739.5 L216.2,739.0 L217.5,739.3 L218.8,739.7 L220.1,739.6 L221.4,739.6 L222.7,740.2 L224.0,740.1 L225.3,737.8 L226.6,740.6 L227.9,740.3 L229.2,740.4 L230.5,740.6 L231.8,740.8 L233.1,740.6 L234.4,740.8 L235.7,741.3 L237.0,740.4 L238.3,741.1 L239.6,741.2 L240.9,740.7 L242.2,741.4 L243.5,741.7 L244.8,741.6 L246.1,741.5 L247.4,740.9 L248.7,740.7 L250.0,740.9 L251.3,741.2 L252.6,741.0 L253.9,740.6 L255.2,741.6 L256.5,740.7 L257.8,740.6 L259.1,741.1 L260.4,740.3 L261.7,740.8 L263.0,740.9 L264.3,741.0 L265.6,740.5 L266.9,741.4 L268.2,740.2 L269.5,740.3 L270.8,740.1 L272.1,740.3 L273.4,740.7 L274.7,738.1 L276.0,740.0 L277.3,740.8 L278.6,740.3 L279.9,741.0 L281.2,741.8 L282.5,742.0 L283.8,741.0 L285.1,741.5 L286.4,740.4 L287.7,741.3 L289.0,741.0 L290.3,741.0 L291.6,741.5 L292.9,741.7 L294.2,741.6 L295.5,741.6 L296.8,742.0 L298.1,741.2 L299.4,740.5 L300.7,740.5 L302.0,742.0 L303.3,742.8 L304.6,741.4 L305.9,741.2 L307.2,741.7 L308.5,741.4 L309.8,741.6 L311.1,741.4 L312.4,741.8 L313.7,741.9 L315.0,740.5 L316.3,740.3 L317.6,741.0 L318.9,741.2 L320.2,740.8 L321.5,740.3 L322.8,739.9 L324.1,740.9 L325.4,739.6 L326.7,739.4 L328.0,739.0 L329.3,738.4 L330.6,737.1 L331.9,737.3 L333.2,735.1 L334.5,736.2 L335.8,737.1 L337.1,737.7 L338.4,736.8 L339.7,737.3 L341.0,737.6 L342.3,738.1 L343.6,738.5 L344.9,737.8 L346.2,737.5 L347.5,738.5 L348.8,736.7 L350.1,737.7 L351.4,737.6 L352.7,737.8 L354.0,738.0 L355.3,739.4 L356.6,738.2 L357.9,737.7 L359.2,737.6 L360.5,738.6 L361.8,737.9 L363.1,738.7 L364.4,737.4 L365.7,738.2 L367.0,738.5 L368.3,738.1 L369.6,738.6 L370.9,737.9 L372.2,738.1 L373.5,738.1 L374.8,738.6 L376.1,738.9 L377.4,738.3 L378.7,738.1 L380.0,739.0 L381.3,739.3 L382.6,738.7 L383.9,739.6 L385.2,739.0 L386.5,738.8 L387.8,739.4 L389.1,740.1 L390.4,739.8 L391.7,739.9 L393.0,740.0 L394.3,740.1 L395.6,739.8 L396.9,739.4 L398.2,740.4 L399.5,739.9 L400.8,740.2 L402.1,739.8 L403.4,740.3 L404.7,740.5 L406.0,740.2 L407.3,740.1 L408.6,737.8 L409.9,740.2 L411.2,741.2 L412.5,739.7 L413.8,740.2 L415.1,740.3 L416.4,739.1 L417.7,739.5 L419.0,740.3 L420.3,739.5 L421.6,740.0 L422.9,739.8 L424.2,739.5 L425.5,739.4 L426.8,739.9 L428.1,740.7 L429.4,739.7 L430.7,740.9 L432.0,739.3 L433.3,740.1 L434.6,740.8 L435.9,741.2 L437.2,740.0 L438.5,740.6 L439.8,740.7 L441.1,740.4 L442.4,740.7 L443.7,740.8 L445.0,741.1 L446.3,740.5 L447.6,740.3 L448.9,741.3 L450.2,738.5 L451.5,741.1 L452.8,740.6 L454.1,742.0 L455.4,742.2 L456.7,741.8 L458.0,741.4 L459.3,741.9 L460.6,741.3 L461.9,739.9 L463.2,741.5 L464.5,741.5 L465.8,741.1 L467.1,740.7 L468.4,741.5 L469.7,741.0 L471.0,741.4 L472.3,740.7 L473.6,741.7 L474.9,741.5 L476.2,740.9 L477.5,740.7 L478.8,740.8 L480.1,740.4 L481.4,741.3 L482.7,740.5 L484.0,740.7 L485.3,741.6 L486.6,740.6 L487.9,740.9 L489.2,740.7 L490.5,740.8 L491.8,741.0 L493.1,741.0 L494.4,740.6 L495.7,741.4 L497.0,741.5 L498.3,742.0 L499.6,740.8 L500.9,741.3 L502.2,741.7 L503.5,742.0 L504.8,741.7 L506.1,741.8 L507.4,741.5 L508.7,742.3 L510.0,741.7 L511.3,740.4 L512.6,739.8 L513.9,739.6 L515.2,737.8 L516.5,737.3 L517.8,736.2 L519.1,736.4 L520.4,736.2 L521.7,736.7 L523.0,736.0 L524.3,736.1 L525.6,737.1 L526.9,736.9 L528.2,736.5 L529.5,737.1 L530.8,732.7 L532.1,736.9 L533.4,737.2 L534.7,737.1 L536.0,737.3 L537.3,737.4 L538.6,737.8 L539.9,737.2 L541.2,738.4 L542.5,737.6 L543.8,738.5 L545.1,738.2 L546.4,738.6 L547.7,738.7 L549.0,738.5 L550.3,739.4 L551.6,738.8 L552.9,738.6 L554.2,738.9 L555.5,737.9 L556.8,739.4 L558.1,740.0 L559.4,740.0 L560.7,738.9 L562.0,739.8 L563.3,739.8 L564.6,739.2 L565.9,738.9 L567.2,739.6 L568.5,740.1 L569.8,739.6 L571.1,740.0 L572.4,738.9 L573.7,739.2 L575.0,739.2 L576.3,739.4 L577.6,739.6 L578.9,739.6 L580.2,739.6 L581.5,739.4 L582.8,739.0 L584.1,739.5 L585.4,739.6 L586.7,740.0 L588.0,738.6 L589.3,739.3 L590.6,739.1 L591.9,739.6 L593.2,740.0 L594.5,739.4 L595.8,739.8 L597.1,739.4 L598.4,740.0 L599.7,741.3 L601.0,739.8 L602.3,739.8 L603.6,740.2 L604.9,740.8 L606.2,740.4 L607.5,740.6 L608.8,740.7 L610.1,740.3 L611.4,741.2 L612.7,740.6 L614.0,741.0 L615.3,741.0 L616.6,741.0 L617.9,741.1 L619.2,741.3 L620.5,741.0 L621.8,741.2 L623.1,741.5 L624.4,741.1 L625.7,741.1 L627.0,741.7 L628.3,740.1 L629.6,740.8 L630.9,740.4 L632.2,740.1 L633.5,741.1 L634.8,740.4 L636.1,740.0 L637.4,739.4 L638.7,741.0 L640.0,741.2 L641.3,740.4 L642.6,740.4 L643.9,741.0 L645.2,739.6 L646.5,739.9 L647.8,739.9 L649.1,740.6 L650.4,740.3 L651.7,740.0 L653.0,740.6 L654.3,741.2 L655.6,740.0 L656.9,741.2 L658.2,740.4 L659.5,741.6 L660.8,740.6 L662.1,741.1 L663.4,740.9 L664.7,741.6 L666.0,741.5 L667.3,741.3 L668.6,741.7 L669.9,741.9 L671.2,741.1 L672.5,741.2 L673.8,741.2 L675.1,741.5 L676.4,741.2 L677.7,742.6 L679.0,741.7 L680.3,741.6 L681.6,741.0 L682.9,740.8 L684.2,741.3 L685.5,742.2 L686.8,741.7 L688.1,741.3 L689.4,741.3 L690.7,740.9 L692.0,741.6 L693.3,740.9 L694.6,741.3 L695.9,740.6 L697.2,739.2 L698.5,738.1 L699.8,738.1 L701.1,736.7 L702.4,735.5 L703.7,735.5 L705.0,735.7 L706.3,736.6 L707.6,736.7 L708.9,736.7 L710.2,737.7 L711.5,736.9 L712.8,737.9 L714.1,737.6 L715.4,737.6 L716.7,737.6 L718.0,738.6 L719.3,737.7 L720.6,737.4 L721.9,738.0 L723.2,738.8 L724.5,737.8 L725.8,738.5 L727.1,739.2 L728.4,739.2 L729.7,738.9 L731.0,739.8 L732.3,738.6 L733.6,738.5 L734.9,737.6 L736.2,738.7 L737.5,739.0 L738.8,738.4 L740.1,738.4 L741.4,738.8 L742.7,738.8 L744.0,738.4 L745.3,738.3 L746.6,738.4 L747.9,737.3 L749.2,738.4 L750.5,739.3 L751.8,739.4 L753.1,737.7 L754.4,738.8 L755.7,738.8 L757.0,738.7 L758.3,739.6 L759.6,738.9 L760.9,739.4 L762.2,739.5 L763.5,739.0 L764.8,739.7 L766.1,739.7 L767.4,740.2 L768.7,739.8 L770.0,740.5 L771.3,740.2 L772.6,740.3 L773.9,740.4 L775.2,739.5 L776.5,741.3 L777.8,741.3 L779.1,740.3 L780.4,739.6 L781.7,740.5 L783.0,741.1 L784.3,739.2 L785.6,741.7 L786.9,740.2 L788.2,740.3 L789.5,740.1 L790.8,740.6 L792.1,738.1 L793.4,740.4 L794.7,740.5 L796.0,739.9 L797.3,740.6 L798.6,740.1 L799.9,740.1 L801.2,740.7 L802.5,740.3 L803.8,740.6 L805.1,741.1 L806.4,739.9 L807.7,740.4 L809.0,739.5 L810.3,741.2 L811.6,739.7 L812.9,739.6 L814.2,740.2 L815.5,741.2 L816.8,740.8 L818.1,739.8 L819.4,741.0 L820.7,740.6 L822.0,740.6 L823.3,739.6 L824.6,741.4 L825.9,741.5 L827.2,741.6 L828.5,741.1 L829.8,741.7 L831.1,741.3 L832.4,740.1 L833.7,741.4 L835.0,742.2 L836.3,741.3 L837.6,742.1 L838.9,741.3 L840.2,741.7 L841.5,741.6 L842.8,741.7 L844.1,741.9 L845.4,741.0 L846.7,741.5 L848.0,742.3 L849.3,741.7 L850.6,741.1 L851.9,741.2 L853.2,741.2 L854.5,741.3 L855.8,741.1 L857.1,741.1 L858.4,741.0 L859.7,740.7 L861.0,741.4 L862.3,741.4 L863.6,740.2 L864.9,740.3 L866.2,741.0 L867.5,740.3 L868.8,740.8 L870.1,740.8 L871.4,741.1 L872.7,740.8 L874.0,742.4 L875.3,742.2 L876.6,742.2 L877.9,741.0 L879.2,740.8 L880.5,741.4 L881.8,740.9 L883.1,739.8 L884.4,739.5 L885.7,737.0 L887.0,737.8 L888.3,737.2 L889.6,735.9 L890.9,736.9 L892.2,736.8 L893.5,736.6 L894.8,735.9 L896.1,736.3 L897.4,737.1 L898.7,737.5 L900.0,732.5 L901.3,737.9 L902.6,736.6 L903.9,737.9 L905.2,736.1 L906.5,737.2 L907.8,737.5 L909.1,737.6 L910.4,737.9 L911.7,737.0 L913.0,736.5 L914.3,737.5 L915.6,737.0 L916.9,737.9 L918.2,737.4 L919.5,738.0 L920.8,738.2 L922.1,738.4 L923.4,738.1 L924.7,739.3 L926.0,738.4 L927.3,738.8 L928.6,739.3 L929.9,739.1 L931.2,740.0 L932.5,739.3 L933.8,739.2 L935.1,740.1 L936.4,739.9 L937.7,739.3 L939.0,739.5 L940.3,739.9 L941.6,740.5 L942.9,740.3 L944.2,739.9 L945.5,738.7 L946.8,740.2 L948.1,739.3 L949.4,739.1 L950.7,739.5 L952.0,739.9 L953.3,739.8 L954.6,741.0 L955.9,739.6 L957.2,739.3 L958.5,740.3 L959.8,739.7 L961.1,739.4 L962.4,739.2 L963.7,739.6 L965.0,740.4 L966.3,740.0 L967.6,739.5 L968.9,737.6 L970.2,739.8 L971.5,739.1 L972.8,740.2 L974.1,740.2 L975.4,740.9 L976.7,740.1 L978.0,739.6 L979.3,740.6 L980.6,741.6 L981.9,740.1 L983.2,741.4 L984.5,740.7 L985.8,741.1 L987.1,740.9 L988.4,740.5 L989.7,741.5 L991.0,740.9 L992.3,741.2 L993.6,741.5 L994.9,740.5 L996.2,741.6 L997.5,741.5 L998.8,741.1 L1000.1,740.9 L1001.4,741.4 L1002.7,741.4 L1004.0,741.1 L1005.3,741.3 L1006.6,741.1 L1007.9,740.2 L1009.2,741.6 L1010.5,741.5 L1011.8,740.3 L1013.1,741.9 L1014.4,740.7 L1015.7,740.5 L1017.0,740.9 L1018.3,741.4 L1019.6,740.2 L1020.9,741.3 L1022.2,740.7 L1023.5,740.2 L1024.8,740.9 L1026.1,740.4 L1027.4,740.9 L1028.7,741.0 L1030.0,740.7 L1031.3,740.0 L1032.6,739.3 L1033.9,741.8 L1035.2,741.9 L1036.5,741.2 L1037.8,741.6 L1039.1,741.6 L1040.4,740.4 L1041.7,741.2 L1043.0,741.5 L1044.3,741.0 L1045.6,741.6 L1046.9,741.9 L1048.2,741.5 L1049.5,741.0 L1050.8,742.5 L1052.1,742.3 L1053.4,741.9 L1054.7,742.1 L1056.0,740.9 L1057.3,741.8 L1058.6,741.7 L1059.9,742.5 L1061.2,741.7 L1062.5,741.0 L1063.8,741.7 L1065.1,741.0 L1066.4,739.7 L1067.7,738.9 L1069.0,739.5 L1070.3,737.2 L1071.6,736.5 L1072.9,735.9 L1074.2,735.4 L1075.5,735.9 L1076.8,736.1 L1078.1,736.3 L1079.4,735.3 L1080.7,735.8 L1082.0,735.8 L1083.3,737.2 L1084.6,737.1 L1085.9,736.0 L1087.2,737.6 L1088.5,733.5 L1089.8,737.6 L1091.1,737.9 L1092.4,738.5 L1092.9,738.5" fill="none" stroke="#ff0000" stroke-width="2.0" stroke-linejoin="round" stroke-linecap="round"/><text x="360.2" y="734.0" font-size="16" fill="#2a2626" textLength="28.100000000000023" lengthAdjust="spacingAndGlyphs" stroke="#2a2626" stroke-width="0.22">0,1</text><text x="397.3" y="748.4" font-size="16" fill="#2a2626" textLength="29.19999999999999" lengthAdjust="spacingAndGlyphs" stroke="#2a2626" stroke-width="0.22">0,0</text><text x="670.8" y="733.3" font-size="16" fill="#2a2626" textLength="28.300000000000068" lengthAdjust="spacingAndGlyphs" stroke="#2a2626" stroke-width="0.22">0,1</text><text x="708.1" y="750.9" font-size="16" fill="#2a2626" textLength="36.0" lengthAdjust="spacingAndGlyphs" stroke="#2a2626" stroke-width="0.22">-0,2</text><path d="M88.0,752.5 L103.9,746.1 L103.9,758.9 Z" fill="#707070" stroke="#444" stroke-width=".8"/><path d="M1092.4,754.2 L1076.5,747.8 L1076.5,760.6 Z" fill="#707070" stroke="#444" stroke-width=".8"/><path d="M125.49999999999999,793.7 L141.89999999999998,793.7 L133.7,806.2 Z" fill="#3a3a3a"/><rect x="302.7" y="814.3" width="181.3" height="20.200000000000045" fill="#d2d2d2"/><line x1="302.7" y1="814.9" x2="484" y2="814.9" stroke="#3a3a3a" stroke-width="1.3"/><line x1="303.3" y1="814.3" x2="303.3" y2="834.5" stroke="#3a3a3a" stroke-width="1.3"/><line x1="483" y1="814.3" x2="483" y2="834.5" stroke="#111" stroke-width="2.2"/><text x="368.35" y="830.9" font-size="16.3" fill="#222" textLength="50" lengthAdjust="spacingAndGlyphs" stroke="#222" stroke-width="0.25">139,9</text><rect x="613.5" y="794.4" width="180.5" height="19.399999999999977" fill="#d2d2d2" stroke="#90ee90" stroke-width="4"/><text x="677.75" y="810.0" font-size="16.3" fill="#222" textLength="52" lengthAdjust="spacingAndGlyphs" stroke="#222" stroke-width="0.25">307,8</text></g><g transform="translate(-4.2,726.8)"><rect x="7.2" y="286.20000000000005" width="1163.5" height="556.5" fill="#fff"/><rect x="8" y="287.5" width="1161.5" height="194.5" fill="#d5dde0"/><line x1="8.7" y1="287.5" x2="8.7" y2="838" stroke="#a4a4a4" stroke-width="1.4"/><line x1="937.6" y1="287.00000000000006" x2="951" y2="287.00000000000006" stroke="#3b78d8" stroke-width="1.6"/><line x1="951" y1="287.00000000000006" x2="955.5" y2="287.00000000000006" stroke="#5fbf4a" stroke-width="1.6"/><line x1="974" y1="287.00000000000006" x2="976" y2="287.00000000000006" stroke="#7a9be0" stroke-width="1.4"/><line x1="956" y1="287.00000000000006" x2="985" y2="287.00000000000006" stroke="#ffffff" stroke-width="1.6"/><rect x="12.5" y="293.7" width="1153.5" height="3.8" fill="#858585"/><rect x="12.5" y="293.7" width="2.4" height="126" fill="#858585"/><line x1="1165.3" y1="294" x2="1165.3" y2="420" stroke="#f2f2f2" stroke-width="2"/><line x1="12.5" y1="419" x2="1166" y2="419" stroke="#f2f4f5" stroke-width="2"/><line x1="238.6" y1="297.5" x2="238.6" y2="418" stroke="#f0f0f0" stroke-width="1.4"/><line x1="240.2" y1="297.5" x2="240.2" y2="418" stroke="#858585" stroke-width="1.8"/><line x1="940.3" y1="297.5" x2="940.3" y2="418" stroke="#f0f0f0" stroke-width="1.4"/><line x1="941.9" y1="297.5" x2="941.9" y2="418" stroke="#858585" stroke-width="1.8"/><text x="21" y="317.1" font-size="17.8" fill="#1e1a1a" textLength="124" lengthAdjust="spacingAndGlyphs" font-weight="bold">Sinal de medição CH1</text><text x="243.7" y="317.1" font-size="17.8" fill="#1e1a1a" textLength="72" lengthAdjust="spacingAndGlyphs" font-weight="bold">Fonte trigger</text><text x="407.2" y="317.1" font-size="17.8" fill="#1e1a1a" textLength="74" lengthAdjust="spacingAndGlyphs" font-weight="bold">Modo trigger</text><text x="571.9" y="317.1" font-size="17.8" fill="#1e1a1a" textLength="74.8" lengthAdjust="spacingAndGlyphs" font-weight="bold">Bordo trigger</text><text x="947.2" y="317.1" font-size="17.8" fill="#1e1a1a" textLength="123.3" lengthAdjust="spacingAndGlyphs" font-weight="bold">Sinal de medição CH2</text><text x="105.8" y="377.3" font-size="17.8" fill="#1e1a1a" textLength="36.2" lengthAdjust="spacingAndGlyphs" font-weight="bold">CA/CC</text><text x="243.7" y="377.3" font-size="17.8" fill="#1e1a1a" textLength="103.6" lengthAdjust="spacingAndGlyphs" font-weight="bold">Selecção cilindros</text><text x="407.2" y="377.3" font-size="17.8" fill="#1e1a1a" textLength="93.8" lengthAdjust="spacingAndGlyphs" font-weight="bold">Tipo de medição</text><text x="947.2" y="377.3" font-size="17.8" fill="#1e1a1a" textLength="35" lengthAdjust="spacingAndGlyphs" font-weight="bold">CA/CC</text><rect x="18.5" y="326.7" width="215.9" height="26.900000000000034" fill="#f0f0f0"/><line x1="18.5" y1="327.45" x2="234.4" y2="327.45" stroke="#7c7c7c" stroke-width="1.5"/><line x1="19.25" y1="326.7" x2="19.25" y2="353.6" stroke="#7c7c7c" stroke-width="1.5"/><line x1="18.5" y1="353.1" x2="234.4" y2="353.1" stroke="#fff" stroke-width="1"/><line x1="233.9" y1="326.7" x2="233.9" y2="353.6" stroke="#fff" stroke-width="1"/><rect x="218.4" y="328.7" width="15.0" height="23.400000000000034" fill="#ececec"/><line x1="218.4" y1="351.6" x2="233.4" y2="351.6" stroke="#6a6a6a" stroke-width="1.3"/><line x1="232.9" y1="328.7" x2="232.9" y2="352.1" stroke="#6a6a6a" stroke-width="1.3"/><path d="M222.70000000000002,338.9 L229.1,338.9 L225.9,343.4 Z" fill="#9a9a9a"/><text x="23.1" y="345.9" font-size="17.8" fill="#b2b2b2" textLength="34" lengthAdjust="spacingAndGlyphs">U-CH1</text><rect x="104.5" y="387.6" width="129.9" height="27.0" fill="#f0f0f0"/><line x1="104.5" y1="388.35" x2="234.4" y2="388.35" stroke="#7c7c7c" stroke-width="1.5"/><line x1="105.25" y1="387.6" x2="105.25" y2="414.6" stroke="#7c7c7c" stroke-width="1.5"/><line x1="104.5" y1="414.1" x2="234.4" y2="414.1" stroke="#fff" stroke-width="1"/><line x1="233.9" y1="387.6" x2="233.9" y2="414.6" stroke="#fff" stroke-width="1"/><rect x="218.4" y="389.6" width="15.0" height="23.5" fill="#ececec"/><line x1="218.4" y1="412.6" x2="233.4" y2="412.6" stroke="#6a6a6a" stroke-width="1.3"/><line x1="232.9" y1="389.6" x2="232.9" y2="413.1" stroke="#6a6a6a" stroke-width="1.3"/><path d="M222.70000000000002,399.85 L229.1,399.85 L225.9,404.35 Z" fill="#9a9a9a"/><text x="109.1" y="406.8" font-size="17.8" fill="#b2b2b2" textLength="16.5" lengthAdjust="spacingAndGlyphs">CC</text><rect x="244.3" y="326.7" width="155.0" height="26.900000000000034" fill="#f0f0f0"/><line x1="244.3" y1="327.45" x2="399.3" y2="327.45" stroke="#7c7c7c" stroke-width="1.5"/><line x1="245.05" y1="326.7" x2="245.05" y2="353.6" stroke="#7c7c7c" stroke-width="1.5"/><line x1="244.3" y1="353.1" x2="399.3" y2="353.1" stroke="#fff" stroke-width="1"/><line x1="398.8" y1="326.7" x2="398.8" y2="353.6" stroke="#fff" stroke-width="1"/><rect x="383.3" y="328.7" width="15.0" height="23.400000000000034" fill="#ececec"/><line x1="383.3" y1="351.6" x2="398.3" y2="351.6" stroke="#6a6a6a" stroke-width="1.3"/><line x1="397.8" y1="328.7" x2="397.8" y2="352.1" stroke="#6a6a6a" stroke-width="1.3"/><path d="M387.6,338.9 L394.0,338.9 L390.8,343.4 Z" fill="#9a9a9a"/><text x="248.9" y="345.9" font-size="17.8" fill="#b2b2b2" textLength="49.4" lengthAdjust="spacingAndGlyphs">CH1 auto</text><rect x="244.3" y="387.6" width="155.0" height="27.0" fill="#f0f0f0"/><line x1="244.3" y1="388.35" x2="399.3" y2="388.35" stroke="#7c7c7c" stroke-width="1.5"/><line x1="245.05" y1="387.6" x2="245.05" y2="414.6" stroke="#7c7c7c" stroke-width="1.5"/><line x1="244.3" y1="414.1" x2="399.3" y2="414.1" stroke="#fff" stroke-width="1"/><line x1="398.8" y1="387.6" x2="398.8" y2="414.6" stroke="#fff" stroke-width="1"/><rect x="383.3" y="389.6" width="15.0" height="23.5" fill="#ececec"/><line x1="383.3" y1="412.6" x2="398.3" y2="412.6" stroke="#6a6a6a" stroke-width="1.3"/><line x1="397.8" y1="389.6" x2="397.8" y2="413.1" stroke="#6a6a6a" stroke-width="1.3"/><path d="M387.6,399.85 L394.0,399.85 L390.8,404.35 Z" fill="#9a9a9a"/><text x="248.9" y="406.8" font-size="17.8" fill="#b2b2b2" textLength="50" lengthAdjust="spacingAndGlyphs">Cilindro 1</text><rect x="406.7" y="326.7" width="154.90000000000003" height="26.900000000000034" fill="#f0f0f0"/><line x1="406.7" y1="327.45" x2="561.6" y2="327.45" stroke="#7c7c7c" stroke-width="1.5"/><line x1="407.45" y1="326.7" x2="407.45" y2="353.6" stroke="#7c7c7c" stroke-width="1.5"/><line x1="406.7" y1="353.1" x2="561.6" y2="353.1" stroke="#fff" stroke-width="1"/><line x1="561.1" y1="326.7" x2="561.1" y2="353.6" stroke="#fff" stroke-width="1"/><rect x="545.6" y="328.7" width="15.0" height="23.400000000000034" fill="#ececec"/><line x1="545.6" y1="351.6" x2="560.6" y2="351.6" stroke="#6a6a6a" stroke-width="1.3"/><line x1="560.1" y1="328.7" x2="560.1" y2="352.1" stroke="#6a6a6a" stroke-width="1.3"/><path d="M549.9,338.9 L556.3000000000001,338.9 L553.1,343.4 Z" fill="#9a9a9a"/><text x="411.3" y="345.9" font-size="17.8" fill="#b2b2b2" textLength="57" lengthAdjust="spacingAndGlyphs">Nível auto.</text><rect x="406.7" y="387.6" width="154.90000000000003" height="27.0" fill="#f0f0f0"/><line x1="406.7" y1="388.35" x2="561.6" y2="388.35" stroke="#7c7c7c" stroke-width="1.5"/><line x1="407.45" y1="387.6" x2="407.45" y2="414.6" stroke="#7c7c7c" stroke-width="1.5"/><line x1="406.7" y1="414.1" x2="561.6" y2="414.1" stroke="#fff" stroke-width="1"/><line x1="561.1" y1="387.6" x2="561.1" y2="414.6" stroke="#fff" stroke-width="1"/><rect x="545.6" y="389.6" width="15.0" height="23.5" fill="#ececec"/><line x1="545.6" y1="412.6" x2="560.6" y2="412.6" stroke="#6a6a6a" stroke-width="1.3"/><line x1="560.1" y1="389.6" x2="560.1" y2="413.1" stroke="#6a6a6a" stroke-width="1.3"/><path d="M549.9,399.85 L556.3000000000001,399.85 L553.1,404.35 Z" fill="#9a9a9a"/><text x="411.3" y="406.8" font-size="17.8" fill="#b2b2b2" textLength="45" lengthAdjust="spacingAndGlyphs">Mín/Máx</text><rect x="570" y="326.7" width="154.5" height="26.900000000000034" fill="#f0f0f0"/><line x1="570" y1="327.45" x2="724.5" y2="327.45" stroke="#7c7c7c" stroke-width="1.5"/><line x1="570.75" y1="326.7" x2="570.75" y2="353.6" stroke="#7c7c7c" stroke-width="1.5"/><line x1="570" y1="353.1" x2="724.5" y2="353.1" stroke="#fff" stroke-width="1"/><line x1="724.0" y1="326.7" x2="724.0" y2="353.6" stroke="#fff" stroke-width="1"/><rect x="708.5" y="328.7" width="15.0" height="23.400000000000034" fill="#ececec"/><line x1="708.5" y1="351.6" x2="723.5" y2="351.6" stroke="#6a6a6a" stroke-width="1.3"/><line x1="723.0" y1="328.7" x2="723.0" y2="352.1" stroke="#6a6a6a" stroke-width="1.3"/><path d="M712.8,338.9 L719.2,338.9 L716.0,343.4 Z" fill="#9a9a9a"/><text x="574.6" y="345.9" font-size="17.8" fill="#b2b2b2" textLength="48" lengthAdjust="spacingAndGlyphs">Negativo</text><rect x="944.7" y="326.7" width="214.89999999999986" height="26.900000000000034" fill="#f0f0f0"/><line x1="944.7" y1="327.45" x2="1159.6" y2="327.45" stroke="#7c7c7c" stroke-width="1.5"/><line x1="945.45" y1="326.7" x2="945.45" y2="353.6" stroke="#7c7c7c" stroke-width="1.5"/><line x1="944.7" y1="353.1" x2="1159.6" y2="353.1" stroke="#fff" stroke-width="1"/><line x1="1159.1" y1="326.7" x2="1159.1" y2="353.6" stroke="#fff" stroke-width="1"/><rect x="1143.6" y="328.7" width="15.0" height="23.400000000000034" fill="#ececec"/><line x1="1143.6" y1="351.6" x2="1158.6" y2="351.6" stroke="#6a6a6a" stroke-width="1.3"/><line x1="1158.1" y1="328.7" x2="1158.1" y2="352.1" stroke="#6a6a6a" stroke-width="1.3"/><path d="M1147.8999999999999,338.9 L1154.3,338.9 L1151.1,343.4 Z" fill="#9a9a9a"/><text x="949.3000000000001" y="345.9" font-size="17.8" fill="#b2b2b2" textLength="86" lengthAdjust="spacingAndGlyphs">I-CH2 pinça 30A</text><rect x="944.7" y="387.6" width="130.0" height="27.0" fill="#f0f0f0"/><line x1="944.7" y1="388.35" x2="1074.7" y2="388.35" stroke="#7c7c7c" stroke-width="1.5"/><line x1="945.45" y1="387.6" x2="945.45" y2="414.6" stroke="#7c7c7c" stroke-width="1.5"/><line x1="944.7" y1="414.1" x2="1074.7" y2="414.1" stroke="#fff" stroke-width="1"/><line x1="1074.2" y1="387.6" x2="1074.2" y2="414.6" stroke="#fff" stroke-width="1"/><rect x="1058.7" y="389.6" width="15.0" height="23.5" fill="#ececec"/><line x1="1058.7" y1="412.6" x2="1073.7" y2="412.6" stroke="#6a6a6a" stroke-width="1.3"/><line x1="1073.2" y1="389.6" x2="1073.2" y2="413.1" stroke="#6a6a6a" stroke-width="1.3"/><path d="M1063.0,399.85 L1069.4,399.85 L1066.2,404.35 Z" fill="#9a9a9a"/><text x="949.3000000000001" y="406.8" font-size="17.8" fill="#b2b2b2" textLength="16.5" lengthAdjust="spacingAndGlyphs">CC</text><rect x="732.2" y="323.7" width="202.29999999999995" height="30.100000000000023" fill="#d5dde0"/><line x1="732.2" y1="324.2" x2="934.5" y2="324.2" stroke="#f4f6f7" stroke-width="1"/><line x1="732.7" y1="323.7" x2="732.7" y2="353.8" stroke="#f4f6f7" stroke-width="1"/><line x1="732.2" y1="352.8" x2="934.5" y2="352.8" stroke="#1a1a1a" stroke-width="2"/><line x1="933.5" y1="323.7" x2="933.5" y2="353.8" stroke="#1a1a1a" stroke-width="2"/><text x="818.85" y="344.55" font-size="18" fill="#6e6e6e" textLength="29" lengthAdjust="spacingAndGlyphs">Filtro</text><rect x="732.2" y="353.8" width="202.29999999999995" height="30.80000000000001" fill="#d5dde0"/><line x1="732.2" y1="354.3" x2="934.5" y2="354.3" stroke="#f4f6f7" stroke-width="1"/><line x1="732.7" y1="353.8" x2="732.7" y2="384.6" stroke="#f4f6f7" stroke-width="1"/><line x1="732.2" y1="383.6" x2="934.5" y2="383.6" stroke="#1a1a1a" stroke-width="2"/><line x1="933.5" y1="353.8" x2="933.5" y2="384.6" stroke="#1a1a1a" stroke-width="2"/><text x="785.5500000000001" y="375.00000000000006" font-size="18" fill="#6e6e6e" textLength="95.6" lengthAdjust="spacingAndGlyphs">Figura individual</text><rect x="732.2" y="384.6" width="202.29999999999995" height="31.0" fill="#d5dde0"/><line x1="732.2" y1="385.1" x2="934.5" y2="385.1" stroke="#f4f6f7" stroke-width="1"/><line x1="732.7" y1="384.6" x2="732.7" y2="415.6" stroke="#f4f6f7" stroke-width="1"/><line x1="732.2" y1="414.6" x2="934.5" y2="414.6" stroke="#1a1a1a" stroke-width="2"/><line x1="933.5" y1="384.6" x2="933.5" y2="415.6" stroke="#1a1a1a" stroke-width="2"/><text x="800.85" y="405.90000000000003" font-size="18" fill="#6e6e6e" textLength="65" lengthAdjust="spacingAndGlyphs">Referência</text><rect x="19.0" y="377.5" width="75.5" height="38.69999999999999" fill="#d5dde0" stroke="#4a4a4a" stroke-width="1"/><text x="42.5" y="403.4" font-size="17.8" fill="#2a2a2a" textLength="28.5" lengthAdjust="spacingAndGlyphs" font-weight="bold">CH 1</text><rect x="1085.5" y="377.5" width="76" height="38.69999999999999" fill="#d5dde0" stroke="#4a4a4a" stroke-width="1"/><text x="1109.1" y="403.4" font-size="17.8" fill="#2a2a2a" textLength="28.8" lengthAdjust="spacingAndGlyphs" font-weight="bold">CH 2</text><line x1="12.5" y1="424" x2="1166" y2="424" stroke="#858585" stroke-width="2"/><line x1="13.5" y1="423" x2="13.5" y2="480" stroke="#858585" stroke-width="2"/><line x1="12.5" y1="480.4" x2="1166" y2="480.4" stroke="#8c8c8c" stroke-width="2.2"/><text x="17.9" y="444.2" font-size="19.2" fill="#1a1414" textLength="33.6" lengthAdjust="spacingAndGlyphs" font-weight="bold">CH1:</text><text x="77.8" y="448.0" font-size="17.8" fill="#2e2626" textLength="44.6" lengthAdjust="spacingAndGlyphs">Efectivo</text><text x="77.8" y="473.7" font-size="17.8" fill="#2e2626" textLength="32.6" lengthAdjust="spacingAndGlyphs">Médio</text><text x="329.8" y="448.0" font-size="17.8" fill="#2e2626" textLength="19" lengthAdjust="spacingAndGlyphs">Mín</text><text x="329.8" y="473.7" font-size="17.8" fill="#2e2626" textLength="22" lengthAdjust="spacingAndGlyphs">Máx</text><text x="522.9" y="448.0" font-size="17.8" fill="#2e2626" textLength="50" lengthAdjust="spacingAndGlyphs">pico-pico</text><text x="522.9" y="473.7" font-size="17.8" fill="#2e2626" textLength="41.6" lengthAdjust="spacingAndGlyphs">Impulso</text><text x="789.8" y="448.0" font-size="17.8" fill="#2e2626" textLength="13" lengthAdjust="spacingAndGlyphs">t/T</text><text x="789.8" y="473.7" font-size="17.8" fill="#2e2626" textLength="59" lengthAdjust="spacingAndGlyphs">Frequência</text><text x="276.2" y="448.0" font-size="17.8" fill="#2e2626" textLength="8.4" lengthAdjust="spacingAndGlyphs">V</text><text x="276.2" y="473.7" font-size="17.8" fill="#2e2626" textLength="8.4" lengthAdjust="spacingAndGlyphs">V</text><text x="482.5" y="448.0" font-size="17.8" fill="#2e2626" textLength="8.4" lengthAdjust="spacingAndGlyphs">V</text><text x="482.5" y="473.7" font-size="17.8" fill="#2e2626" textLength="8.4" lengthAdjust="spacingAndGlyphs">V</text><text x="733" y="448.0" font-size="17.8" fill="#2e2626" textLength="8.4" lengthAdjust="spacingAndGlyphs">V</text><text x="733" y="473.7" font-size="17.8" fill="#2e2626" textLength="12.2" lengthAdjust="spacingAndGlyphs">µs</text><text x="989.4" y="445.7" font-size="17.8" fill="#2e2626" textLength="9.6" lengthAdjust="spacingAndGlyphs">%</text><text x="989.4" y="473.7" font-size="17.8" fill="#2e2626" textLength="19.6" lengthAdjust="spacingAndGlyphs">kHz</text><rect x="201" y="426.8" width="73" height="23.19999999999999" fill="#fff"/><line x1="201" y1="427.55" x2="274" y2="427.55" stroke="#707070" stroke-width="1.5"/><line x1="201.75" y1="426.8" x2="201.75" y2="450" stroke="#707070" stroke-width="1.5"/><text x="250.6" y="445.8" font-size="17.8" fill="#3a3030" textLength="21.4" lengthAdjust="spacingAndGlyphs">12,8</text><rect x="201" y="454.6" width="73" height="22.69999999999999" fill="#fff"/><line x1="201" y1="455.35" x2="274" y2="455.35" stroke="#707070" stroke-width="1.5"/><line x1="201.75" y1="454.6" x2="201.75" y2="477.3" stroke="#707070" stroke-width="1.5"/><text x="250.6" y="473.6" font-size="17.8" fill="#3a3030" textLength="21.4" lengthAdjust="spacingAndGlyphs">11,4</text><rect x="404.7" y="426.8" width="74.69999999999999" height="23.19999999999999" fill="#fff"/><line x1="404.7" y1="427.55" x2="479.4" y2="427.55" stroke="#707070" stroke-width="1.5"/><line x1="405.45" y1="426.8" x2="405.45" y2="450" stroke="#707070" stroke-width="1.5"/><text x="451.4" y="445.8" font-size="17.8" fill="#3a3030" textLength="26" lengthAdjust="spacingAndGlyphs">-0,40</text><rect x="404.7" y="454.6" width="74.69999999999999" height="22.69999999999999" fill="#fff"/><line x1="404.7" y1="455.35" x2="479.4" y2="455.35" stroke="#707070" stroke-width="1.5"/><line x1="405.45" y1="454.6" x2="405.45" y2="477.3" stroke="#707070" stroke-width="1.5"/><text x="456.0" y="473.6" font-size="17.8" fill="#3a3030" textLength="21.4" lengthAdjust="spacingAndGlyphs">15,4</text><rect x="652.7" y="426.8" width="78.29999999999995" height="23.19999999999999" fill="#fff"/><line x1="652.7" y1="427.55" x2="731" y2="427.55" stroke="#707070" stroke-width="1.5"/><line x1="653.45" y1="426.8" x2="653.45" y2="450" stroke="#707070" stroke-width="1.5"/><text x="707.6" y="445.8" font-size="17.8" fill="#3a3030" textLength="21.4" lengthAdjust="spacingAndGlyphs">15,8</text><rect x="652.7" y="454.6" width="78.29999999999995" height="22.69999999999999" fill="#fff"/><line x1="652.7" y1="455.35" x2="731" y2="455.35" stroke="#707070" stroke-width="1.5"/><line x1="653.45" y1="454.6" x2="653.45" y2="477.3" stroke="#707070" stroke-width="1.5"/><text x="707.6" y="473.6" font-size="17.8" fill="#3a3030" textLength="21.4" lengthAdjust="spacingAndGlyphs">15,0</text><rect x="913" y="426.8" width="73" height="23.19999999999999" fill="#fff"/><line x1="913" y1="427.55" x2="986" y2="427.55" stroke="#707070" stroke-width="1.5"/><line x1="913.75" y1="426.8" x2="913.75" y2="450" stroke="#707070" stroke-width="1.5"/><text x="962.6" y="445.8" font-size="17.8" fill="#3a3030" textLength="21.4" lengthAdjust="spacingAndGlyphs">15,0</text><rect x="913" y="454.6" width="73" height="22.69999999999999" fill="#fff"/><line x1="913" y1="455.35" x2="986" y2="455.35" stroke="#707070" stroke-width="1.5"/><line x1="913.75" y1="454.6" x2="913.75" y2="477.3" stroke="#707070" stroke-width="1.5"/><text x="962.6" y="473.6" font-size="17.8" fill="#3a3030" textLength="21.4" lengthAdjust="spacingAndGlyphs">10,0</text><rect x="1042.9" y="427" width="117.29999999999995" height="51.30000000000001" fill="#d5dde0"/><line x1="1042.9" y1="427.5" x2="1160.2" y2="427.5" stroke="#f4f6f7" stroke-width="1"/><line x1="1043.4" y1="427" x2="1043.4" y2="478.3" stroke="#f4f6f7" stroke-width="1"/><line x1="1042.9" y1="477.3" x2="1160.2" y2="477.3" stroke="#1a1a1a" stroke-width="2"/><line x1="1159.2" y1="427" x2="1159.2" y2="478.3" stroke="#1a1a1a" stroke-width="2"/><text x="1059.15" y="458.1" font-size="18" fill="#262020" textLength="84.8" lengthAdjust="spacingAndGlyphs">Entre cursores</text><rect x="14.5" y="482" width="1151" height="353" fill="#fff"/><line x1="13.4" y1="482" x2="13.4" y2="838" stroke="#9a9a9a" stroke-width="1.6"/><line x1="11" y1="482" x2="11" y2="838" stroke="#dcdcdc" stroke-width="2.6"/><line x1="1166.3" y1="482" x2="1166.3" y2="838" stroke="#dfe3e5" stroke-width="2"/><line x1="8" y1="835.6" x2="1168" y2="835.6" stroke="#e4e8ea" stroke-width="2.4"/><line x1="8" y1="837.6" x2="1168" y2="837.6" stroke="#c8cccf" stroke-width="1.2"/><line x1="87.5" y1="517.3" x2="1092.9" y2="517.3" stroke="#cacaca" stroke-width="1.0" stroke-dasharray="6 1.27"/><line x1="87.5" y1="536.2" x2="1092.9" y2="536.2" stroke="#cacaca" stroke-width="1.0" stroke-dasharray="6 1.27"/><line x1="87.5" y1="608.3" x2="1092.9" y2="608.3" stroke="#cacaca" stroke-width="1.0" stroke-dasharray="6 1.27"/><line x1="87.5" y1="680.4" x2="1092.9" y2="680.4" stroke="#cacaca" stroke-width="1.0" stroke-dasharray="6 1.27"/><line x1="87.5" y1="752.5" x2="1092.9" y2="752.5" stroke="#cacaca" stroke-width="1.0" stroke-dasharray="6 1.27"/><line x1="133.7" y1="517.3" x2="133.7" y2="806.2" stroke="#dedede" stroke-width="1.3" stroke-dasharray="8.4 2"/><line x1="318.82" y1="517.3" x2="318.82" y2="806.2" stroke="#dedede" stroke-width="1.3" stroke-dasharray="8.4 2"/><line x1="503.94" y1="517.3" x2="503.94" y2="806.2" stroke="#dedede" stroke-width="1.3" stroke-dasharray="8.4 2"/><line x1="689.06" y1="517.3" x2="689.06" y2="806.2" stroke="#dedede" stroke-width="1.3" stroke-dasharray="8.4 2"/><line x1="874.1800000000001" y1="517.3" x2="874.1800000000001" y2="806.2" stroke="#dedede" stroke-width="1.3" stroke-dasharray="8.4 2"/><line x1="1059.3" y1="517.3" x2="1059.3" y2="806.2" stroke="#dedede" stroke-width="1.3" stroke-dasharray="8.4 2"/><line x1="87.5" y1="752.4" x2="1092.9" y2="752.4" stroke="#b4b4b4" stroke-width="1.2"/><line x1="87.5" y1="517.3" x2="87.5" y2="806.2" stroke="#555" stroke-width="1.2"/><line x1="1092.9" y1="517.3" x2="1092.9" y2="806.2" stroke="#555" stroke-width="1.2"/><line x1="87.5" y1="806.2" x2="1092.9" y2="806.2" stroke="#555" stroke-width="1.4"/><text x="19.2" y="501.9" font-size="20.2" fill="#1414ff" textLength="81.6" lengthAdjust="spacingAndGlyphs">U-CH1</text><text x="955.8" y="501.9" font-size="20.2" fill="#ff1a1a" textLength="205.6" lengthAdjust="spacingAndGlyphs">I-CH2 pinça 30A</text><text x="44.6" y="541.8000000000001" font-size="16" fill="#1414ff" textLength="38.4" lengthAdjust="spacingAndGlyphs">15.0</text><text x="44.6" y="613.9" font-size="16" fill="#1414ff" textLength="38.4" lengthAdjust="spacingAndGlyphs">10.0</text><text x="56" y="686.0" font-size="16" fill="#1414ff" textLength="27" lengthAdjust="spacingAndGlyphs">5.0</text><text x="56" y="758.1" font-size="16" fill="#1414ff" textLength="27" lengthAdjust="spacingAndGlyphs">0.0</text><text x="1096.6" y="544.3000000000001" font-size="16.4" fill="#ff1a1a" textLength="38.6" lengthAdjust="spacingAndGlyphs">1,50</text><text x="1096.6" y="616.4" font-size="16.4" fill="#ff1a1a" textLength="38.6" lengthAdjust="spacingAndGlyphs">1,00</text><text x="1096.6" y="688.5" font-size="16.4" fill="#ff1a1a" textLength="38.6" lengthAdjust="spacingAndGlyphs">0,50</text><text x="1096.6" y="760.6" font-size="16.4" fill="#ff1a1a" textLength="38.6" lengthAdjust="spacingAndGlyphs">0,00</text><text x="18.2" y="556.4" font-size="16.5" fill="#1414ff" textLength="13.4" lengthAdjust="spacingAndGlyphs">V</text><text x="1149" y="556.5" font-size="16.5" fill="#ff1a1a" textLength="13.8" lengthAdjust="spacingAndGlyphs">A</text><text x="128.2" y="821.4" font-size="17.6" fill="#b0b0b0" textLength="11" lengthAdjust="spacingAndGlyphs">0</text><text x="301.62" y="821.4" font-size="17.6" fill="#b0b0b0" textLength="34.4" lengthAdjust="spacingAndGlyphs">100</text><text x="486.74" y="821.4" font-size="17.6" fill="#b0b0b0" textLength="34.4" lengthAdjust="spacingAndGlyphs">200</text><text x="671.8599999999999" y="821.4" font-size="17.6" fill="#b0b0b0" textLength="34.4" lengthAdjust="spacingAndGlyphs">300</text><text x="856.98" y="821.4" font-size="17.6" fill="#b0b0b0" textLength="34.4" lengthAdjust="spacingAndGlyphs">400</text><text x="1042.1" y="821.4" font-size="17.6" fill="#b0b0b0" textLength="34.4" lengthAdjust="spacingAndGlyphs">500</text><text x="1067.7" y="832.4" font-size="17" fill="#b0b0b0" textLength="20.6" lengthAdjust="spacingAndGlyphs">µs</text><line x1="324.95" y1="517.3" x2="324.95" y2="806.2" stroke="#4a4a4a" stroke-width="1.1"/><line x1="544.2" y1="517.3" x2="544.2" y2="806.2" stroke="#4a4a4a" stroke-width="1.1"/><rect x="87.8" y="517.6" width="35.3" height="26.199999999999932" fill="#b4b4ff" stroke="#111" stroke-width="1.7"/><rect x="125.1" y="517.6" width="35.900000000000006" height="26.199999999999932" fill="#b4b4ff" stroke="#111" stroke-width="1.7"/><line x1="92.39999999999999" y1="527.0" x2="119.1" y2="527.0" stroke="#111" stroke-width="2.7"/><line x1="92.39999999999999" y1="534.8" x2="119.1" y2="534.8" stroke="#111" stroke-width="2.7"/><line x1="131.5" y1="527.0" x2="156.4" y2="527.0" stroke="#111" stroke-width="2.6"/><path d="M129.0,527.0 L134.5,523.8 L134.5,530.2 Z" fill="#111"/><line x1="131.5" y1="534.8" x2="156.4" y2="534.8" stroke="#111" stroke-width="2.6"/><path d="M129.0,534.8 L134.5,531.5999999999999 L134.5,538.0 Z" fill="#111"/><rect x="1019.2" y="517.6" width="34.59999999999991" height="26.199999999999932" fill="#fbb4b4" stroke="#111" stroke-width="1.7"/><rect x="1055.8" y="517.6" width="37.200000000000045" height="26.199999999999932" fill="#fbb4b4" stroke="#111" stroke-width="1.7"/><line x1="1023.8000000000001" y1="527.0" x2="1049.8" y2="527.0" stroke="#111" stroke-width="2.7"/><line x1="1023.8000000000001" y1="534.8" x2="1049.8" y2="534.8" stroke="#111" stroke-width="2.7"/><line x1="1062.2" y1="527.0" x2="1088.4" y2="527.0" stroke="#111" stroke-width="2.6"/><path d="M1059.7,527.0 L1065.2,523.8 L1065.2,530.2 Z" fill="#111"/><line x1="1062.2" y1="534.8" x2="1088.4" y2="534.8" stroke="#111" stroke-width="2.6"/><path d="M1059.7,534.8 L1065.2,531.5999999999999 L1065.2,538.0 Z" fill="#111"/><path d="M1080.4,538.5999999999999 L1088.4,538.5999999999999 M1084.8000000000002,538.5999999999999 L1084.8000000000002,534.8" stroke="#111" stroke-width="1.9" fill="none"/><rect x="553.8" y="517.8" width="72.90000000000009" height="26" fill="#c4c4c4" stroke="#111" stroke-width="1.6"/><line x1="589.6" y1="517.8" x2="589.6" y2="543.8" stroke="#111" stroke-width="3.4"/><path d="M560.8,521.6 L571.8,521.6 L571.8,540 L580.8,540" stroke="#111" stroke-width="2.1" fill="none"/><path d="M566.0,528.6 L571.8,534.4 L577.5999999999999,528.6" stroke="#111" stroke-width="2" fill="none"/><text x="602.75" y="538.4" font-size="18" fill="#111" textLength="10.6" lengthAdjust="spacingAndGlyphs" stroke="#111" stroke-width="0.5">1</text><rect x="373.8" y="483.6" width="119.79999999999995" height="20.2" fill="#d2d2d2"/><text x="380.1" y="497.4" font-size="16.2" fill="#2a2626" textLength="106.99999999999996" lengthAdjust="spacingAndGlyphs" stroke="#2a2626" stroke-width="0.25">&lt; 118,4µs &gt;</text><rect x="14" y="743.4" width="72" height="19" rx="1.5" fill="#d0d0d0" stroke="#3a3a3a" stroke-width="1.5"/><text x="29.6" y="758.5" font-size="16.3" fill="#2a2420" textLength="39" lengthAdjust="spacingAndGlyphs" stroke="#2a2420" stroke-width="0.25">0,00</text><rect x="14.3" y="609.5" width="26.900000000000002" height="63.799999999999955" fill="#b4b4ff" stroke="#5a5aff" stroke-width="1"/><text transform="translate(27.75,641.4) rotate(-90)" x="-27.899999999999977" y="6.6" font-size="20" fill="#222" stroke="#222" stroke-width=".3" textLength="55.799999999999955" lengthAdjust="spacingAndGlyphs">&lt; 15,0 &gt;</text><rect x="1139.2" y="670.3" width="26.0" height="55.5" fill="#fbb4b4" stroke="#ff5a5a" stroke-width="1"/><text transform="translate(1152.2,698.05) rotate(-90)" x="-23.75" y="6.6" font-size="20" fill="#222" stroke="#222" stroke-width=".3" textLength="47.5" lengthAdjust="spacingAndGlyphs">&lt; 0,2 &gt;</text><rect x="287.2" y="689.2" width="37.75" height="19.700000000000045" rx="1" fill="#f88080" fill-opacity=".6" stroke="#ff3c3c" stroke-width="1"/><line x1="324.95" y1="708.9000000000001" x2="335.45" y2="708.9000000000001" stroke="#8a8a8a" stroke-width="1"/><rect x="324.95" y="729.9000000000001" width="35.94999999999999" height="20.0" rx="1" fill="#8080ff" fill-opacity=".6" stroke="#4a4aff" stroke-width="1"/><line x1="313.95" y1="749.9000000000001" x2="324.95" y2="749.9000000000001" stroke="#8a8a8a" stroke-width="1"/><rect x="507.2" y="668.2" width="37.00000000000006" height="20.0" rx="1" fill="#f88080" fill-opacity=".6" stroke="#ff3c3c" stroke-width="1"/><line x1="544.2" y1="688.2" x2="554.7" y2="688.2" stroke="#8a8a8a" stroke-width="1"/><rect x="544.2" y="513.2" width="48.0" height="22.0" rx="1" fill="#8080ff" fill-opacity=".6" stroke="#4a4aff" stroke-width="1"/><line x1="533.2" y1="535.2" x2="544.2" y2="535.2" stroke="#8a8a8a" stroke-width="1"/><path d="M87.5,547.4 L98.6,547.2 L99.8,547.4 L121.2,547.4 L121.9,546.2 L123.2,546.2 L123.9,547.4 L132.1,547.4 L132.6,538.5 L133.1,536.8 L133.6,540.0 L134.3,560.0 L135.3,600.0 L136.5,648.0 L137.7,690.0 L138.7,722.0 L139.4,748.0 L140.1,759.2 L141.1,759.0 L160.2,755.2 L165.2,753.8 L167.3,752.0 L168.7,749.0 L170.3,740.7 L171.2,729.0 L172.0,712.0 L172.5,687.0 L173.0,653.0 L173.4,600.0 L173.8,565.0 L174.1,545.0 L174.3,534.0 L175.1,531.2 L176.7,530.4 L179.1,531.4 L181.1,534.0 L182.5,538.0 L183.7,541.8 L185.9,544.0 L188.7,544.6 L198.7,544.8 L199.7,546.0 L220.7,546.0 L222.2,547.2 L283.7,547.2 L284.9,547.4 L306.3,547.4 L307.0,546.2 L308.3,546.2 L309.0,547.4 L317.2,547.4 L317.7,538.5 L318.2,536.8 L318.7,540.0 L319.4,560.0 L320.4,600.0 L321.6,648.0 L322.8,690.0 L323.8,722.0 L324.5,748.0 L325.2,759.2 L326.2,759.0 L345.3,755.2 L350.3,753.8 L352.4,752.0 L353.8,749.0 L355.4,740.7 L356.3,729.0 L357.1,712.0 L357.6,687.0 L358.1,653.0 L358.5,600.0 L358.9,565.0 L359.2,545.0 L359.4,534.0 L360.2,531.2 L361.8,530.4 L364.2,531.4 L366.2,534.0 L367.6,538.0 L368.8,541.8 L371.0,544.0 L373.8,544.6 L383.8,544.8 L384.8,546.0 L405.8,546.0 L407.3,547.2 L468.8,547.2 L470.0,547.4 L491.4,547.4 L492.1,546.2 L493.4,546.2 L494.1,547.4 L502.3,547.4 L502.8,538.5 L503.3,536.8 L503.8,540.0 L504.5,560.0 L505.5,600.0 L506.7,648.0 L507.9,690.0 L508.9,722.0 L509.6,748.0 L510.3,759.2 L511.3,759.0 L530.4,755.2 L535.4,753.8 L537.5,752.0 L538.9,749.0 L540.5,740.7 L541.4,729.0 L542.2,712.0 L542.7,687.0 L543.2,653.0 L543.6,600.0 L544.0,565.0 L544.3,545.0 L544.5,534.0 L545.3,531.2 L546.9,530.4 L549.3,531.4 L551.3,534.0 L552.7,538.0 L553.9,541.8 L556.1,544.0 L558.9,544.6 L568.9,544.8 L569.9,546.0 L590.9,546.0 L592.4,547.2 L653.9,547.2 L655.1,547.4 L676.6,547.4 L677.3,546.2 L678.6,546.2 L679.3,547.4 L687.5,547.4 L688.0,538.5 L688.5,536.8 L689.0,540.0 L689.7,560.0 L690.7,600.0 L691.9,648.0 L693.1,690.0 L694.1,722.0 L694.8,748.0 L695.5,759.2 L696.5,759.0 L715.6,755.2 L720.6,753.8 L722.7,752.0 L724.1,749.0 L725.7,740.7 L726.6,729.0 L727.4,712.0 L727.9,687.0 L728.4,653.0 L728.8,600.0 L729.2,565.0 L729.5,545.0 L729.7,534.0 L730.5,531.2 L732.1,530.4 L734.5,531.4 L736.5,534.0 L737.9,538.0 L739.1,541.8 L741.3,544.0 L744.1,544.6 L754.1,544.8 L755.1,546.0 L776.1,546.0 L777.6,547.2 L839.1,547.2 L840.3,547.4 L861.7,547.4 L862.4,546.2 L863.7,546.2 L864.4,547.4 L872.6,547.4 L873.1,538.5 L873.6,536.8 L874.1,540.0 L874.8,560.0 L875.8,600.0 L877.0,648.0 L878.2,690.0 L879.2,722.0 L879.9,748.0 L880.6,759.2 L881.6,759.0 L900.7,755.2 L905.7,753.8 L907.8,752.0 L909.2,749.0 L910.8,740.7 L911.7,729.0 L912.5,712.0 L913.0,687.0 L913.5,653.0 L913.9,600.0 L914.3,565.0 L914.6,545.0 L914.8,534.0 L915.6,531.2 L917.2,530.4 L919.6,531.4 L921.6,534.0 L923.0,538.0 L924.2,541.8 L926.4,544.0 L929.2,544.6 L939.2,544.8 L940.2,546.0 L961.2,546.0 L962.7,547.2 L1024.2,547.2 L1025.4,547.4 L1046.8,547.4 L1047.5,546.2 L1048.8,546.2 L1049.5,547.4 L1057.7,547.4 L1058.2,538.5 L1058.7,536.8 L1059.2,540.0 L1059.9,560.0 L1060.9,600.0 L1062.1,648.0 L1063.3,690.0 L1064.3,722.0 L1065.0,748.0 L1065.7,759.2 L1066.7,759.0 L1085.8,755.2 L1090.8,753.8 L1092.9,752.0 L1092.9,752.0" fill="none" stroke="#0000ff" stroke-width="3.1" stroke-linejoin="round" stroke-linecap="round"/><path d="M87.5,702.6 L88.8,703.9 L90.1,702.9 L91.4,703.9 L92.7,703.3 L94.0,703.4 L95.3,705.5 L96.6,705.2 L97.9,706.5 L99.2,704.6 L100.5,705.1 L101.8,705.2 L103.1,705.5 L104.4,705.9 L105.7,704.3 L107.0,706.2 L108.3,704.8 L109.6,706.0 L110.9,708.4 L112.2,706.2 L113.5,706.1 L114.8,706.9 L116.1,706.7 L117.4,706.0 L118.7,706.0 L120.0,706.6 L121.3,707.8 L122.6,706.8 L123.9,708.2 L125.2,707.9 L126.5,708.1 L127.8,708.0 L129.1,708.2 L130.4,708.3 L131.7,708.2 L133.0,707.8 L134.3,708.7 L135.6,709.5 L136.9,709.1 L138.2,709.1 L139.5,710.0 L140.8,708.2 L142.1,707.9 L143.4,707.6 L144.7,707.9 L146.0,706.7 L147.3,704.8 L148.6,703.4 L149.9,704.0 L151.2,703.0 L152.5,701.2 L153.8,701.6 L155.1,699.0 L156.4,698.9 L157.7,699.9 L159.0,697.3 L160.3,697.2 L161.6,694.9 L162.9,696.5 L164.2,694.4 L165.5,696.0 L166.8,694.0 L168.1,692.8 L169.4,693.4 L170.7,691.8 L172.0,691.6 L173.3,688.6 L174.6,688.6 L175.9,686.6 L177.2,687.4 L178.5,687.7 L179.8,688.3 L181.1,688.1 L182.4,688.6 L183.7,690.0 L185.0,689.2 L186.3,687.5 L187.6,690.0 L188.9,687.4 L190.2,688.7 L191.5,689.5 L192.8,691.1 L194.1,692.0 L195.4,691.9 L196.7,691.6 L198.0,690.9 L199.3,691.6 L200.6,693.3 L201.9,691.7 L203.2,693.6 L204.5,692.7 L205.8,693.0 L207.1,694.6 L208.4,694.4 L209.7,694.1 L211.0,693.7 L212.3,693.4 L213.6,695.4 L214.9,696.0 L216.2,695.5 L217.5,695.3 L218.8,695.0 L220.1,696.0 L221.4,696.3 L222.7,696.6 L224.0,697.1 L225.3,695.5 L226.6,697.6 L227.9,697.5 L229.2,698.2 L230.5,698.2 L231.8,697.4 L233.1,698.6 L234.4,698.9 L235.7,698.1 L237.0,697.0 L238.3,698.4 L239.6,699.3 L240.9,698.7 L242.2,698.9 L243.5,700.4 L244.8,699.8 L246.1,700.2 L247.4,700.1 L248.7,697.8 L250.0,701.7 L251.3,700.6 L252.6,701.0 L253.9,701.3 L255.2,701.5 L256.5,700.8 L257.8,700.9 L259.1,701.6 L260.4,701.6 L261.7,702.9 L263.0,702.4 L264.3,702.4 L265.6,703.3 L266.9,701.9 L268.2,702.2 L269.5,703.4 L270.8,703.1 L272.1,704.0 L273.4,704.2 L274.7,703.1 L276.0,704.5 L277.3,704.8 L278.6,703.9 L279.9,704.1 L281.2,703.2 L282.5,705.0 L283.8,706.2 L285.1,703.7 L286.4,704.8 L287.7,705.6 L289.0,704.8 L290.3,704.4 L291.6,703.1 L292.9,705.9 L294.2,705.7 L295.5,705.4 L296.8,707.2 L298.1,705.2 L299.4,706.3 L300.7,707.3 L302.0,706.4 L303.3,707.0 L304.6,707.8 L305.9,706.5 L307.2,706.5 L308.5,707.0 L309.8,708.1 L311.1,707.9 L312.4,709.0 L313.7,707.4 L315.0,707.7 L316.3,707.9 L317.6,708.0 L318.9,707.2 L320.2,709.1 L321.5,708.4 L322.8,708.3 L324.1,710.2 L325.4,708.3 L326.7,708.5 L328.0,707.8 L329.3,705.9 L330.6,705.9 L331.9,705.4 L333.2,701.9 L334.5,703.7 L335.8,703.3 L337.1,701.5 L338.4,702.1 L339.7,701.2 L341.0,700.4 L342.3,698.3 L343.6,698.2 L344.9,697.2 L346.2,696.8 L347.5,695.5 L348.8,694.7 L350.1,694.9 L351.4,693.5 L352.7,693.6 L354.0,692.0 L355.3,692.1 L356.6,693.3 L357.9,690.2 L359.2,690.5 L360.5,689.0 L361.8,687.3 L363.1,684.7 L364.4,688.7 L365.7,687.7 L367.0,687.2 L368.3,687.7 L369.6,689.2 L370.9,689.6 L372.2,690.0 L373.5,689.2 L374.8,690.0 L376.1,690.8 L377.4,691.3 L378.7,691.4 L380.0,691.2 L381.3,690.5 L382.6,692.2 L383.9,691.4 L385.2,690.1 L386.5,692.2 L387.8,691.6 L389.1,693.1 L390.4,692.7 L391.7,693.5 L393.0,693.8 L394.3,693.7 L395.6,693.0 L396.9,693.9 L398.2,694.3 L399.5,694.9 L400.8,696.8 L402.1,695.8 L403.4,695.0 L404.7,695.5 L406.0,695.0 L407.3,696.3 L408.6,696.3 L409.9,697.4 L411.2,697.0 L412.5,697.4 L413.8,699.1 L415.1,697.1 L416.4,697.1 L417.7,699.0 L419.0,698.2 L420.3,698.6 L421.6,698.6 L422.9,698.8 L424.2,699.7 L425.5,699.0 L426.8,699.6 L428.1,698.8 L429.4,699.5 L430.7,701.0 L432.0,700.1 L433.3,699.4 L434.6,699.8 L435.9,701.1 L437.2,701.5 L438.5,700.9 L439.8,701.1 L441.1,700.5 L442.4,701.4 L443.7,701.2 L445.0,701.2 L446.3,702.1 L447.6,702.4 L448.9,703.1 L450.2,703.6 L451.5,702.7 L452.8,702.7 L454.1,704.4 L455.4,703.9 L456.7,703.9 L458.0,703.4 L459.3,703.6 L460.6,703.1 L461.9,703.7 L463.2,703.9 L464.5,704.4 L465.8,704.7 L467.1,703.6 L468.4,705.1 L469.7,704.2 L471.0,704.7 L472.3,706.9 L473.6,705.3 L474.9,706.6 L476.2,706.5 L477.5,705.4 L478.8,706.3 L480.1,705.1 L481.4,705.6 L482.7,706.3 L484.0,708.3 L485.3,706.7 L486.6,706.7 L487.9,706.5 L489.2,706.7 L490.5,707.9 L491.8,707.7 L493.1,706.7 L494.4,708.0 L495.7,707.5 L497.0,706.3 L498.3,708.1 L499.6,706.9 L500.9,707.5 L502.2,708.3 L503.5,707.0 L504.8,706.6 L506.1,708.4 L507.4,707.0 L508.7,709.8 L510.0,709.6 L511.3,707.6 L512.6,707.2 L513.9,706.9 L515.2,705.8 L516.5,705.8 L517.8,704.9 L519.1,703.8 L520.4,703.5 L521.7,702.1 L523.0,701.9 L524.3,702.3 L525.6,699.3 L526.9,699.6 L528.2,698.1 L529.5,699.2 L530.8,696.5 L532.1,695.9 L533.4,696.1 L534.7,695.2 L536.0,695.0 L537.3,693.9 L538.6,691.9 L539.9,690.1 L541.2,690.8 L542.5,689.6 L543.8,689.4 L545.1,689.0 L546.4,688.0 L547.7,687.9 L549.0,688.1 L550.3,689.1 L551.6,689.0 L552.9,688.5 L554.2,688.7 L555.5,688.2 L556.8,689.5 L558.1,690.9 L559.4,690.0 L560.7,690.3 L562.0,689.6 L563.3,691.5 L564.6,690.3 L565.9,692.2 L567.2,690.5 L568.5,690.9 L569.8,692.1 L571.1,692.2 L572.4,693.0 L573.7,692.7 L575.0,693.6 L576.3,693.0 L577.6,695.5 L578.9,694.8 L580.2,694.9 L581.5,695.2 L582.8,695.0 L584.1,695.3 L585.4,695.2 L586.7,695.5 L588.0,696.7 L589.3,696.1 L590.6,696.6 L591.9,695.9 L593.2,697.3 L594.5,696.6 L595.8,698.4 L597.1,695.4 L598.4,696.8 L599.7,699.2 L601.0,698.3 L602.3,697.1 L603.6,698.0 L604.9,695.9 L606.2,698.1 L607.5,697.9 L608.8,699.8 L610.1,699.4 L611.4,699.7 L612.7,700.1 L614.0,699.1 L615.3,699.8 L616.6,700.9 L617.9,701.6 L619.2,700.5 L620.5,701.1 L621.8,701.1 L623.1,700.2 L624.4,701.3 L625.7,701.7 L627.0,701.0 L628.3,701.9 L629.6,701.7 L630.9,701.2 L632.2,702.0 L633.5,702.1 L634.8,703.1 L636.1,701.6 L637.4,703.1 L638.7,703.6 L640.0,703.6 L641.3,701.6 L642.6,702.6 L643.9,703.5 L645.2,703.3 L646.5,706.1 L647.8,704.2 L649.1,703.8 L650.4,704.0 L651.7,704.3 L653.0,705.3 L654.3,704.8 L655.6,705.4 L656.9,705.9 L658.2,704.9 L659.5,705.5 L660.8,705.2 L662.1,705.2 L663.4,704.8 L664.7,706.4 L666.0,705.3 L667.3,706.4 L668.6,706.6 L669.9,707.1 L671.2,706.2 L672.5,706.8 L673.8,705.5 L675.1,706.9 L676.4,707.1 L677.7,708.4 L679.0,707.2 L680.3,708.1 L681.6,707.6 L682.9,708.2 L684.2,708.2 L685.5,708.4 L686.8,707.2 L688.1,708.9 L689.4,707.8 L690.7,709.1 L692.0,709.4 L693.3,708.3 L694.6,707.4 L695.9,708.3 L697.2,707.5 L698.5,706.2 L699.8,705.9 L701.1,705.1 L702.4,705.5 L703.7,705.1 L705.0,704.5 L706.3,702.1 L707.6,701.7 L708.9,701.5 L710.2,699.5 L711.5,699.3 L712.8,700.4 L714.1,698.4 L715.4,697.0 L716.7,697.1 L718.0,696.0 L719.3,694.9 L720.6,693.9 L721.9,693.0 L723.2,691.4 L724.5,692.5 L725.8,692.2 L727.1,690.3 L728.4,689.8 L729.7,688.7 L731.0,688.2 L732.3,687.6 L733.6,687.5 L734.9,687.4 L736.2,688.5 L737.5,688.8 L738.8,687.8 L740.1,690.0 L741.4,688.4 L742.7,688.4 L744.0,689.5 L745.3,689.0 L746.6,691.2 L747.9,690.7 L749.2,689.7 L750.5,691.4 L751.8,691.1 L753.1,692.5 L754.4,692.7 L755.7,693.5 L757.0,693.0 L758.3,692.7 L759.6,693.8 L760.9,695.0 L762.2,692.7 L763.5,692.8 L764.8,694.7 L766.1,693.0 L767.4,694.0 L768.7,695.5 L770.0,693.5 L771.3,695.3 L772.6,696.1 L773.9,696.8 L775.2,695.2 L776.5,696.0 L777.8,696.3 L779.1,696.3 L780.4,697.6 L781.7,696.6 L783.0,697.3 L784.3,697.8 L785.6,697.4 L786.9,697.4 L788.2,698.1 L789.5,698.6 L790.8,699.4 L792.1,699.0 L793.4,699.0 L794.7,700.2 L796.0,698.4 L797.3,698.9 L798.6,698.1 L799.9,699.9 L801.2,700.6 L802.5,700.4 L803.8,700.8 L805.1,699.8 L806.4,701.5 L807.7,701.0 L809.0,701.7 L810.3,701.1 L811.6,702.4 L812.9,700.8 L814.2,702.1 L815.5,701.5 L816.8,701.8 L818.1,702.8 L819.4,702.7 L820.7,702.5 L822.0,703.6 L823.3,703.1 L824.6,703.1 L825.9,702.0 L827.2,704.5 L828.5,702.6 L829.8,703.4 L831.1,704.0 L832.4,703.2 L833.7,703.8 L835.0,703.5 L836.3,704.5 L837.6,704.2 L838.9,703.6 L840.2,705.3 L841.5,705.1 L842.8,706.0 L844.1,705.1 L845.4,705.5 L846.7,704.3 L848.0,705.1 L849.3,706.7 L850.6,706.1 L851.9,706.0 L853.2,707.5 L854.5,705.6 L855.8,706.2 L857.1,707.0 L858.4,707.3 L859.7,706.3 L861.0,706.4 L862.3,708.3 L863.6,708.0 L864.9,708.0 L866.2,708.4 L867.5,708.3 L868.8,708.0 L870.1,708.1 L871.4,708.0 L872.7,708.5 L874.0,708.2 L875.3,708.8 L876.6,708.6 L877.9,708.1 L879.2,709.0 L880.5,711.1 L881.8,708.7 L883.1,707.5 L884.4,707.2 L885.7,704.3 L887.0,705.6 L888.3,705.4 L889.6,703.6 L890.9,702.8 L892.2,702.0 L893.5,702.1 L894.8,700.0 L896.1,698.9 L897.4,700.1 L898.7,698.6 L900.0,698.4 L901.3,697.2 L902.6,696.6 L903.9,695.2 L905.2,695.5 L906.5,694.3 L907.8,692.9 L909.1,692.3 L910.4,689.0 L911.7,691.3 L913.0,690.8 L914.3,689.4 L915.6,688.3 L916.9,688.7 L918.2,687.5 L919.5,688.1 L920.8,688.2 L922.1,689.8 L923.4,689.6 L924.7,688.9 L926.0,689.4 L927.3,690.1 L928.6,690.1 L929.9,690.0 L931.2,691.2 L932.5,690.6 L933.8,690.5 L935.1,691.6 L936.4,691.9 L937.7,691.2 L939.0,692.5 L940.3,692.2 L941.6,693.2 L942.9,693.8 L944.2,693.2 L945.5,693.9 L946.8,693.5 L948.1,694.0 L949.4,695.1 L950.7,694.6 L952.0,694.1 L953.3,694.1 L954.6,695.3 L955.9,694.8 L957.2,696.1 L958.5,695.0 L959.8,696.3 L961.1,696.1 L962.4,696.6 L963.7,697.1 L965.0,697.5 L966.3,696.9 L967.6,697.0 L968.9,698.0 L970.2,697.9 L971.5,697.1 L972.8,697.6 L974.1,698.8 L975.4,698.5 L976.7,698.5 L978.0,699.8 L979.3,697.7 L980.6,698.0 L981.9,700.5 L983.2,699.1 L984.5,699.1 L985.8,700.3 L987.1,700.6 L988.4,699.8 L989.7,701.0 L991.0,701.3 L992.3,701.2 L993.6,701.0 L994.9,698.8 L996.2,700.9 L997.5,701.1 L998.8,702.0 L1000.1,700.9 L1001.4,701.8 L1002.7,702.8 L1004.0,702.3 L1005.3,702.1 L1006.6,703.7 L1007.9,704.1 L1009.2,702.7 L1010.5,702.3 L1011.8,703.4 L1013.1,703.5 L1014.4,702.8 L1015.7,703.6 L1017.0,704.4 L1018.3,704.4 L1019.6,704.4 L1020.9,705.0 L1022.2,705.1 L1023.5,705.4 L1024.8,706.0 L1026.1,705.0 L1027.4,706.0 L1028.7,705.2 L1030.0,704.9 L1031.3,705.0 L1032.6,706.7 L1033.9,705.2 L1035.2,705.7 L1036.5,706.7 L1037.8,705.1 L1039.1,706.1 L1040.4,703.8 L1041.7,705.2 L1043.0,705.9 L1044.3,706.6 L1045.6,706.3 L1046.9,709.0 L1048.2,706.4 L1049.5,707.5 L1050.8,707.6 L1052.1,708.0 L1053.4,705.5 L1054.7,707.1 L1056.0,707.7 L1057.3,708.5 L1058.6,706.9 L1059.9,707.4 L1061.2,707.6 L1062.5,708.2 L1063.8,707.8 L1065.1,708.9 L1066.4,708.8 L1067.7,707.4 L1069.0,704.8 L1070.3,705.9 L1071.6,705.3 L1072.9,704.8 L1074.2,704.8 L1075.5,703.5 L1076.8,702.6 L1078.1,702.1 L1079.4,701.2 L1080.7,700.7 L1082.0,700.9 L1083.3,699.0 L1084.6,697.4 L1085.9,696.7 L1087.2,695.7 L1088.5,697.3 L1089.8,693.4 L1091.1,692.0 L1092.4,693.1 L1092.9,693.1" fill="none" stroke="#ff0000" stroke-width="2.0" stroke-linejoin="round" stroke-linecap="round"/><text x="291.7" y="705.3000000000001" font-size="16" fill="#2a2626" textLength="28.75" lengthAdjust="spacingAndGlyphs" stroke="#2a2626" stroke-width="0.22">0,3</text><text x="329.45" y="746.3000000000001" font-size="16" fill="#2a2626" textLength="26.94999999999999" lengthAdjust="spacingAndGlyphs" stroke="#2a2626" stroke-width="0.22">0,2</text><text x="511.7" y="684.6" font-size="16" fill="#2a2626" textLength="28.000000000000057" lengthAdjust="spacingAndGlyphs" stroke="#2a2626" stroke-width="0.22">0,5</text><text x="548.7" y="531.6" font-size="16" fill="#2a2626" textLength="39.0" lengthAdjust="spacingAndGlyphs" stroke="#2a2626" stroke-width="0.22">15,2</text><path d="M88.0,752.5 L103.9,746.1 L103.9,758.9 Z" fill="#707070" stroke="#444" stroke-width=".8"/><path d="M1092.4,754.2 L1076.5,747.8 L1076.5,760.6 Z" fill="#707070" stroke="#444" stroke-width=".8"/><path d="M125.49999999999999,793.7 L141.89999999999998,793.7 L133.7,806.2 Z" fill="#3a3a3a"/><rect x="234.2" y="814.2" width="180.5" height="22.0" fill="#d2d2d2"/><line x1="234.2" y1="814.8000000000001" x2="414.7" y2="814.8000000000001" stroke="#3a3a3a" stroke-width="1.3"/><line x1="234.79999999999998" y1="814.2" x2="234.79999999999998" y2="836.2" stroke="#3a3a3a" stroke-width="1.3"/><line x1="413.7" y1="814.2" x2="413.7" y2="836.2" stroke="#111" stroke-width="2.2"/><text x="299.45" y="830.8000000000001" font-size="16.3" fill="#222" textLength="50" lengthAdjust="spacingAndGlyphs" stroke="#222" stroke-width="0.25">102,9</text><rect x="453.2" y="794.2" width="180.50000000000006" height="19.5" fill="#d2d2d2" stroke="#90ee90" stroke-width="4"/><text x="517.45" y="809.8000000000001" font-size="16.3" fill="#222" textLength="52" lengthAdjust="spacingAndGlyphs" stroke="#222" stroke-width="0.25">221,3</text></g><defs><marker id="ah" viewBox="0 0 10 10" refX="9" refY="5" markerWidth="4.4" markerHeight="4.4" orient="auto"><path d="M0,0 L10,5 L0,10 Z" fill="#ff0000"/></marker></defs><rect x="540.4" y="1243.4" width="52.4" height="21" fill="none" stroke="#ff0000" stroke-width="2.8"/><rect x="503.8" y="1395.4" width="37.2" height="20.4" fill="none" stroke="#ff0000" stroke-width="2.8"/><rect x="558.6" y="1310" width="80.4" height="33.4" fill="#fff" stroke="#ff0000" stroke-width="1.5"/><text x="569.5" y="1332.6" font-size="15.2" fill="#111" textLength="49.5" lengthAdjust="spacingAndGlyphs">Tensão</text><rect x="392.6" y="1350.4" width="89.6" height="33" fill="#fff" stroke="#ff0000" stroke-width="1.5"/><text x="404" y="1372.6" font-size="15.2" fill="#111" textLength="61.5" lengthAdjust="spacingAndGlyphs">Corrente</text><line x1="572" y1="1265.5" x2="589.2" y2="1306.5" stroke="#ff0000" stroke-width="2" marker-end="url(#ah)"/><line x1="502.6" y1="1405.8" x2="454" y2="1385.6" stroke="#ff0000" stroke-width="2" marker-end="url(#ah)"/></svg>
</div></body></html>
